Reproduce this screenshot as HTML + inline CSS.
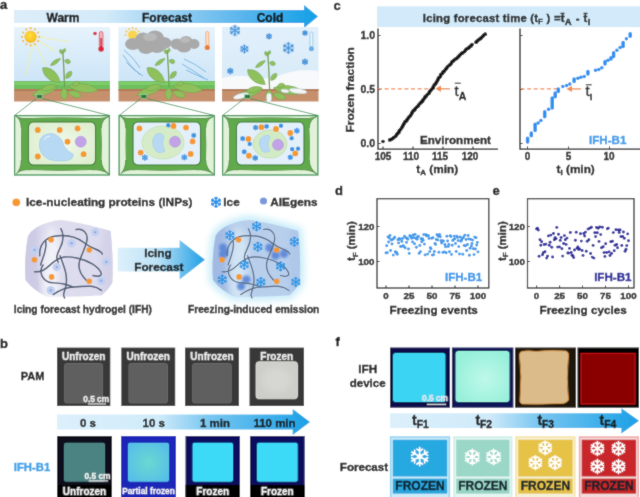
<!DOCTYPE html>
<html><head><meta charset="utf-8"><style>html,body{margin:0;padding:0;background:#fff;overflow:hidden;}svg{display:block;}</style></head>
<body><svg width="640" height="497" viewBox="0 0 640 497">
<filter id="gblur" x="0" y="0" width="640" height="497" filterUnits="userSpaceOnUse"><feConvolveMatrix order="3" kernelMatrix="1 2 1 2 20 2 1 2 1" divisor="32" edgeMode="duplicate"/></filter>
<g filter="url(#gblur)">
<rect width="640" height="497" fill="#fff"/>
<defs>
<linearGradient id="hdr" x1="14" x2="318" y1="0" y2="0" gradientUnits="userSpaceOnUse">
 <stop offset="0" stop-color="#dcedf9"/><stop offset="0.3" stop-color="#d3eaf9"/><stop offset="0.75" stop-color="#5ab5ec"/><stop offset="1" stop-color="#12a0e6"/></linearGradient>
<linearGradient id="sky" x1="0" x2="0" y1="0" y2="1"><stop offset="0" stop-color="#e6f3fc"/><stop offset="1" stop-color="#cde5f7"/></linearGradient>
<linearGradient id="sky3" x1="0" x2="0" y1="0" y2="1"><stop offset="0" stop-color="#e2f0fb"/><stop offset="1" stop-color="#d8ebf8"/></linearGradient>
<linearGradient id="arrA" x1="118" x2="205" y1="0" y2="0" gradientUnits="userSpaceOnUse">
 <stop offset="0" stop-color="#dcf0fb"/><stop offset="0.45" stop-color="#bde2f7"/><stop offset="1" stop-color="#1e9fe4"/></linearGradient>
<linearGradient id="arrB" x1="57" x2="310" y1="0" y2="0" gradientUnits="userSpaceOnUse">
 <stop offset="0" stop-color="#dcf0fb"/><stop offset="0.4" stop-color="#d0ebfa"/><stop offset="0.6" stop-color="#78c6f0"/><stop offset="1" stop-color="#1aa0e6"/></linearGradient>
<linearGradient id="arrF" x1="390" x2="639" y1="0" y2="0" gradientUnits="userSpaceOnUse">
 <stop offset="0" stop-color="#dcf0fb"/><stop offset="0.4" stop-color="#cfeafa"/><stop offset="0.6" stop-color="#78c6f0"/><stop offset="1" stop-color="#1aa0e6"/></linearGradient>
<radialGradient id="gel1" cx="0.5" cy="0.5" r="0.6"><stop offset="0" stop-color="#f4f4fb"/><stop offset="0.7" stop-color="#dedcef"/><stop offset="1" stop-color="#c9c7e3"/></radialGradient>
<radialGradient id="gel2" cx="0.5" cy="0.5" r="0.6"><stop offset="0" stop-color="#c0d6ee"/><stop offset="0.7" stop-color="#aac4e8"/><stop offset="1" stop-color="#a0bce6"/></radialGradient>
<radialGradient id="mint" cx="0.55" cy="0.55" r="0.6"><stop offset="0" stop-color="#bff8ea"/><stop offset="1" stop-color="#96f0da"/></radialGradient>
<radialGradient id="cyto1" cx="0.5" cy="0.5" r="0.6"><stop offset="0" stop-color="#f0f8ea"/><stop offset="1" stop-color="#ddefcf"/></radialGradient>
<filter id="blur3" x="-20%" y="-20%" width="140%" height="140%"><feGaussianBlur stdDeviation="3"/></filter>
<filter id="blur08" x="-50%" y="-50%" width="200%" height="200%"><feGaussianBlur stdDeviation="0.8"/></filter>
<radialGradient id="glow" cx="0.5" cy="0.5" r="0.5"><stop offset="0.6" stop-color="#bfe6f7"/><stop offset="1" stop-color="#ffffff" stop-opacity="0"/></radialGradient>
<radialGradient id="sun" cx="0.45" cy="0.4" r="0.6"><stop offset="0" stop-color="#ffe040"/><stop offset="1" stop-color="#f8b818"/></radialGradient>
<radialGradient id="partial" cx="0.5" cy="0.5" r="0.6"><stop offset="0" stop-color="#6ad8d0"/><stop offset="1" stop-color="#56bfe8"/></radialGradient>
</defs>
<text x="0" y="9" font-size="13" font-family="Liberation Sans, Arial, sans-serif" font-weight="bold" fill="#111" stroke="#111" stroke-width="0.35">a</text>
<path d="M14 10H304V5L318 16.5L304 28V23H14Z" fill="url(#hdr)"/>
<text x="63" y="21.5" font-size="12" font-family="Liberation Sans, Arial, sans-serif" font-weight="bold" fill="#111" text-anchor="middle" stroke="#111" stroke-width="0.35">Warm</text>
<text x="167" y="21.5" font-size="12" font-family="Liberation Sans, Arial, sans-serif" font-weight="bold" fill="#111" text-anchor="middle" stroke="#111" stroke-width="0.35">Forecast</text>
<text x="270" y="21.5" font-size="12" font-family="Liberation Sans, Arial, sans-serif" font-weight="bold" fill="#111" text-anchor="middle" stroke="#111" stroke-width="0.35">Cold</text>
<rect x="14" y="27" width="96" height="54" fill="url(#sky)"/>
<rect x="14" y="81" width="96" height="8.5" fill="#6cbf5c"/>
<rect x="14" y="82" width="96" height="3" fill="#7fcb6a"/>
<rect x="14" y="89" width="96" height="12.5" fill="#c6906c"/>
<rect x="14" y="89" width="96" height="2" fill="#b27c58"/>
<rect x="118.5" y="27" width="96.5" height="54" fill="url(#sky)"/>
<rect x="118.5" y="81" width="96.5" height="8.5" fill="#6cbf5c"/>
<rect x="118.5" y="82" width="96.5" height="3" fill="#7fcb6a"/>
<rect x="118.5" y="89" width="96.5" height="12.5" fill="#c6906c"/>
<rect x="118.5" y="89" width="96.5" height="2" fill="#b27c58"/>
<rect x="222" y="27" width="96.5" height="54" fill="url(#sky3)"/>
<rect x="222" y="89" width="96.5" height="12.5" fill="#c6906c"/>
<rect x="222" y="89" width="96.5" height="2" fill="#b27c58"/>
<g opacity="0.55" stroke="#f0f0a0" stroke-width="1.6"><path d="M33 44L26 75M36 44L46 66M38 40L56 52M40 37L70 42"/></g>
<circle cx="39.20" cy="36.80" r="1.1" fill="#f6b830"/>
<circle cx="38.05" cy="41.10" r="1.1" fill="#f6b830"/>
<circle cx="34.90" cy="44.25" r="1.1" fill="#f6b830"/>
<circle cx="30.60" cy="45.40" r="1.1" fill="#f6b830"/>
<circle cx="26.30" cy="44.25" r="1.1" fill="#f6b830"/>
<circle cx="23.15" cy="41.10" r="1.1" fill="#f6b830"/>
<circle cx="22.00" cy="36.80" r="1.1" fill="#f6b830"/>
<circle cx="23.15" cy="32.50" r="1.1" fill="#f6b830"/>
<circle cx="26.30" cy="29.35" r="1.1" fill="#f6b830"/>
<circle cx="30.60" cy="28.20" r="1.1" fill="#f6b830"/>
<circle cx="34.90" cy="29.35" r="1.1" fill="#f6b830"/>
<circle cx="38.05" cy="32.50" r="1.1" fill="#f6b830"/>
<circle cx="30.6" cy="36.8" r="6.2" fill="url(#sun)"/>
<rect x="99.3" y="31.5" width="3.6" height="16" rx="1.8" fill="#f2b8c0" stroke="#d83848" stroke-width="0.7"/>
<rect x="100.4" y="38" width="1.4" height="10" fill="#d82838"/>
<circle cx="101.1" cy="49" r="2.8" fill="#d82838"/>
<circle cx="95" cy="33.5" r="1.8" fill="#d82838"/>
<circle cx="125.50" cy="35.00" r="1" fill="#f6c040"/>
<circle cx="126.44" cy="31.50" r="1" fill="#f6c040"/>
<circle cx="129.00" cy="28.94" r="1" fill="#f6c040"/>
<circle cx="132.50" cy="28.00" r="1" fill="#f6c040"/>
<circle cx="136.00" cy="28.94" r="1" fill="#f6c040"/>
<circle cx="138.56" cy="31.50" r="1" fill="#f6c040"/>
<circle cx="139.50" cy="35.00" r="1" fill="#f6c040"/>
<circle cx="132.5" cy="35" r="4.8" fill="#fad650"/>
<g fill="#a9a9a9"><ellipse cx="133" cy="44" rx="8" ry="6"/><ellipse cx="143" cy="40" rx="8" ry="7.5"/><ellipse cx="155" cy="38" rx="9" ry="7.5"/><ellipse cx="164" cy="43" rx="7.5" ry="6"/><ellipse cx="146" cy="48" rx="8" ry="6"/><ellipse cx="157" cy="47" rx="8" ry="6"/><ellipse cx="177" cy="44" rx="6.5" ry="5.5"/><ellipse cx="186" cy="41.5" rx="6.5" ry="5.5"/><ellipse cx="194" cy="44" rx="5.5" ry="5"/><ellipse cx="184" cy="48" rx="7" ry="4.5"/></g>
<g fill="#c4c4c4" opacity="0.6"><ellipse cx="150" cy="37" rx="7" ry="4"/><ellipse cx="185" cy="40" rx="5" ry="3"/></g>
<g stroke="#5fa6dc" stroke-width="0.85" fill="none" opacity="0.9"><path d="M124 50 Q134 58 140 68"/><path d="M123 55 Q130 66 140 75"/><path d="M126 62 Q133 70 143 76"/><path d="M184 59 Q196 64 206 72"/><path d="M182 64 Q194 71 204 78"/><path d="M186 70 Q196 75 208 80"/></g>
<rect x="205.8" y="31.5" width="3" height="14" rx="1.5" fill="#fbe0cc" stroke="#f08a40" stroke-width="0.6"/>
<circle cx="207.3" cy="47.5" r="2.6" fill="#f07a30"/>
<path d="M222 78 Q240 74 252 77 Q266 80 278 76 Q296 68 318.5 71 V89 H222Z" fill="#f7f9fb"/>
<polygon points="239.66,33.25 234.90,36.00 230.14,33.25 230.14,27.75 234.90,25.00 239.66,27.75" fill="#8cc2ec" opacity="0.6"/>
<path d="M234.90 30.50L234.90 25.00M234.90 27.20L236.26 25.84M234.90 27.20L233.54 25.84M234.90 30.50L230.14 27.75M232.04 28.85L231.54 26.99M232.04 28.85L230.18 29.35M234.90 30.50L230.14 33.25M232.04 32.15L230.18 31.65M232.04 32.15L231.54 34.01M234.90 30.50L234.90 36.00M234.90 33.80L233.54 35.16M234.90 33.80L236.26 35.16M234.90 30.50L239.66 33.25M237.76 32.15L238.26 34.01M237.76 32.15L239.62 31.65M234.90 30.50L239.66 27.75M237.76 28.85L239.62 29.35M237.76 28.85L238.26 26.99" stroke="#3d8fd8" stroke-width="0.9" stroke-linecap="round" fill="none" opacity="1"/>
<polygon points="271.42,37.80 269.00,39.20 266.58,37.80 266.58,35.00 269.00,33.60 271.42,35.00" fill="#8cc2ec" opacity="0.6"/>
<path d="M269.00 36.40L269.00 33.60M269.00 34.72L269.69 34.03M269.00 34.72L268.31 34.03M269.00 36.40L266.58 35.00M267.55 35.56L267.29 34.61M267.55 35.56L266.60 35.81M269.00 36.40L266.58 37.80M267.55 37.24L266.60 36.99M267.55 37.24L267.29 38.19M269.00 36.40L269.00 39.20M269.00 38.08L268.31 38.77M269.00 38.08L269.69 38.77M269.00 36.40L271.42 37.80M270.45 37.24L270.71 38.19M270.45 37.24L271.40 36.99M269.00 36.40L271.42 35.00M270.45 35.56L271.40 35.81M270.45 35.56L270.71 34.61" stroke="#3d8fd8" stroke-width="0.9" stroke-linecap="round" fill="none" opacity="1"/>
<polygon points="248.04,51.10 244.40,53.20 240.76,51.10 240.76,46.90 244.40,44.80 248.04,46.90" fill="#8cc2ec" opacity="0.6"/>
<path d="M244.40 49.00L244.40 44.80M244.40 46.48L245.44 45.44M244.40 46.48L243.36 45.44M244.40 49.00L240.76 46.90M242.22 47.74L241.84 46.32M242.22 47.74L240.80 48.12M244.40 49.00L240.76 51.10M242.22 50.26L240.80 49.88M242.22 50.26L241.84 51.68M244.40 49.00L244.40 53.20M244.40 51.52L243.36 52.56M244.40 51.52L245.44 52.56M244.40 49.00L248.04 51.10M246.58 50.26L246.96 51.68M246.58 50.26L248.00 49.88M244.40 49.00L248.04 46.90M246.58 47.74L248.00 48.12M246.58 47.74L246.96 46.32" stroke="#3d8fd8" stroke-width="0.9" stroke-linecap="round" fill="none" opacity="1"/>
<polygon points="293.42,50.90 288.40,53.80 283.38,50.90 283.38,45.10 288.40,42.20 293.42,45.10" fill="#8cc2ec" opacity="0.6"/>
<path d="M288.40 48.00L288.40 42.20M288.40 44.52L289.84 43.08M288.40 44.52L286.96 43.08M288.40 48.00L283.38 45.10M285.39 46.26L284.86 44.30M285.39 46.26L283.43 46.79M288.40 48.00L283.38 50.90M285.39 49.74L283.43 49.21M285.39 49.74L284.86 51.70M288.40 48.00L288.40 53.80M288.40 51.48L286.96 52.92M288.40 51.48L289.84 52.92M288.40 48.00L293.42 50.90M291.41 49.74L291.94 51.70M291.41 49.74L293.37 49.21M288.40 48.00L293.42 45.10M291.41 46.26L293.37 46.79M291.41 46.26L291.94 44.30" stroke="#3d8fd8" stroke-width="0.9" stroke-linecap="round" fill="none" opacity="1"/>
<polygon points="307.17,34.25 305.00,35.50 302.83,34.25 302.83,31.75 305.00,30.50 307.17,31.75" fill="#8cc2ec" opacity="0.6"/>
<path d="M305.00 33.00L305.00 30.50M305.00 31.50L305.62 30.88M305.00 31.50L304.38 30.88M305.00 33.00L302.83 31.75M303.70 32.25L303.47 31.40M303.70 32.25L302.86 32.48M305.00 33.00L302.83 34.25M303.70 33.75L302.86 33.52M303.70 33.75L303.47 34.60M305.00 33.00L305.00 35.50M305.00 34.50L304.38 35.12M305.00 34.50L305.62 35.12M305.00 33.00L307.17 34.25M306.30 33.75L306.53 34.60M306.30 33.75L307.14 33.52M305.00 33.00L307.17 31.75M306.30 32.25L307.14 32.48M306.30 32.25L306.53 31.40" stroke="#3d8fd8" stroke-width="0.9" stroke-linecap="round" fill="none" opacity="1"/>
<polygon points="307.60,63.30 305.00,64.80 302.40,63.30 302.40,60.30 305.00,58.80 307.60,60.30" fill="#8cc2ec" opacity="0.6"/>
<path d="M305.00 61.80L305.00 58.80M305.00 60.00L305.74 59.26M305.00 60.00L304.26 59.26M305.00 61.80L302.40 60.30M303.44 60.90L303.17 59.89M303.44 60.90L302.43 61.17M305.00 61.80L302.40 63.30M303.44 62.70L302.43 62.43M303.44 62.70L303.17 63.71M305.00 61.80L305.00 64.80M305.00 63.60L304.26 64.34M305.00 63.60L305.74 64.34M305.00 61.80L307.60 63.30M306.56 62.70L306.83 63.71M306.56 62.70L307.57 62.43M305.00 61.80L307.60 60.30M306.56 60.90L307.57 61.17M306.56 60.90L306.83 59.89" stroke="#3d8fd8" stroke-width="0.9" stroke-linecap="round" fill="none" opacity="1"/>
<polygon points="232.90,72.50 230.30,74.00 227.70,72.50 227.70,69.50 230.30,68.00 232.90,69.50" fill="#8cc2ec" opacity="0.6"/>
<path d="M230.30 71.00L230.30 68.00M230.30 69.20L231.04 68.46M230.30 69.20L229.56 68.46M230.30 71.00L227.70 69.50M228.74 70.10L228.47 69.09M228.74 70.10L227.73 70.37M230.30 71.00L227.70 72.50M228.74 71.90L227.73 71.63M228.74 71.90L228.47 72.91M230.30 71.00L230.30 74.00M230.30 72.80L229.56 73.54M230.30 72.80L231.04 73.54M230.30 71.00L232.90 72.50M231.86 71.90L232.13 72.91M231.86 71.90L232.87 71.63M230.30 71.00L232.90 69.50M231.86 70.10L232.87 70.37M231.86 70.10L232.13 69.09" stroke="#3d8fd8" stroke-width="0.9" stroke-linecap="round" fill="none" opacity="1"/>
<rect x="309.9" y="32" width="3" height="15" rx="1.5" fill="#e8f4fc" stroke="#74b4e4" stroke-width="0.6"/>
<circle cx="311.4" cy="48.8" r="2.5" fill="#6aaee4" />
<g transform="translate(14,27)"><path d="M50.6 60 Q50 42 48.8 23.5" stroke="#6f9c4a" stroke-width="1.3" fill="none"/><path d="M-15 0C-4.50 -5.96 8.25 -5.52 15 0C8.25 5.52 -4.50 5.96 -15 0Z" transform="translate(69 61) rotate(8)" fill="#8ec05c" stroke="#6e9f46" stroke-width="0.5"/><path d="M-13.5 0C-4.05 -4.97 7.43 -4.60 13.5 0C7.43 4.60 -4.05 4.97 -13.5 0Z" transform="translate(31 64) rotate(162)" fill="#8ec05c" stroke="#6e9f46" stroke-width="0.5"/><path d="M-8 0C-2.40 -3.73 4.40 -3.45 8 0C4.40 3.45 -2.40 3.73 -8 0Z" transform="translate(35 60.5) rotate(165)" fill="#8ec05c" stroke="#6e9f46" stroke-width="0.5"/><path d="M-7 0C-2.10 -4.35 3.85 -4.03 7 0C3.85 4.03 -2.10 4.35 -7 0Z" transform="translate(60.5 67) rotate(20)" fill="#8ec05c" stroke="#6e9f46" stroke-width="0.5"/><path d="M-4 0C-1.20 -3.11 2.20 -2.88 4 0C2.20 2.88 -1.20 3.11 -4 0Z" transform="translate(61.7 56.7) rotate(-20)" fill="#8ec05c" stroke="#6e9f46" stroke-width="0.5"/><path d="M-3.6 0C-1.08 -8.07 1.98 -7.48 3.6 0C1.98 7.48 -1.08 8.07 -3.6 0Z" transform="translate(50 67) rotate(0)" fill="#8ec05c" stroke="#6e9f46" stroke-width="0.5"/><path d="M-11.5 0C-3.45 -6.58 6.33 -6.10 11.5 0C6.33 6.10 -3.45 6.58 -11.5 0Z" transform="translate(37.4 48.2) rotate(220)" fill="#8ec05c" stroke="#6e9f46" stroke-width="0.5"/><path d="M-4.5 0C-1.35 -3.23 2.48 -2.99 4.5 0C2.48 2.99 -1.35 3.23 -4.5 0Z" transform="translate(54.7 47.9) rotate(-50)" fill="#8ec05c" stroke="#6e9f46" stroke-width="0.5"/><path d="M-6 0C-1.80 -2.48 3.30 -2.30 6 0C3.30 2.30 -1.80 2.48 -6 0Z" transform="translate(41.5 35) rotate(145)" fill="#8ec05c" stroke="#6e9f46" stroke-width="0.5"/><path d="M-3 0C-0.90 -2.98 1.65 -2.76 3 0C1.65 2.76 -0.90 2.98 -3 0Z" transform="translate(53.5 34.4) rotate(20)" fill="#8ec05c" stroke="#6e9f46" stroke-width="0.5"/><path d="M-1.6 0C-0.48 -3.23 0.88 -2.99 1.6 0C0.88 2.99 -0.48 3.23 -1.6 0Z" transform="translate(47.2 24.6) rotate(160)" fill="#8ec05c" stroke="#6e9f46" stroke-width="0.5"/><path d="M-1.4 0C-0.42 -2.98 0.77 -2.76 1.4 0C0.77 2.76 -0.42 2.98 -1.4 0Z" transform="translate(50.2 23.6) rotate(20)" fill="#8ec05c" stroke="#6e9f46" stroke-width="0.5"/></g><rect x="36.4" y="94.6" width="6" height="4" fill="#2b7a3c" stroke="#a8d8b0" stroke-width="0.6"/>
<g transform="translate(118.5,27)"><path d="M50.6 60 Q50 42 48.8 23.5" stroke="#6f9c4a" stroke-width="1.3" fill="none"/><path d="M-15 0C-4.50 -5.96 8.25 -5.52 15 0C8.25 5.52 -4.50 5.96 -15 0Z" transform="translate(69 61) rotate(8)" fill="#8ec05c" stroke="#6e9f46" stroke-width="0.5"/><path d="M-13.5 0C-4.05 -4.97 7.43 -4.60 13.5 0C7.43 4.60 -4.05 4.97 -13.5 0Z" transform="translate(31 64) rotate(162)" fill="#8ec05c" stroke="#6e9f46" stroke-width="0.5"/><path d="M-8 0C-2.40 -3.73 4.40 -3.45 8 0C4.40 3.45 -2.40 3.73 -8 0Z" transform="translate(35 60.5) rotate(165)" fill="#8ec05c" stroke="#6e9f46" stroke-width="0.5"/><path d="M-7 0C-2.10 -4.35 3.85 -4.03 7 0C3.85 4.03 -2.10 4.35 -7 0Z" transform="translate(60.5 67) rotate(20)" fill="#8ec05c" stroke="#6e9f46" stroke-width="0.5"/><path d="M-4 0C-1.20 -3.11 2.20 -2.88 4 0C2.20 2.88 -1.20 3.11 -4 0Z" transform="translate(61.7 56.7) rotate(-20)" fill="#8ec05c" stroke="#6e9f46" stroke-width="0.5"/><path d="M-3.6 0C-1.08 -8.07 1.98 -7.48 3.6 0C1.98 7.48 -1.08 8.07 -3.6 0Z" transform="translate(50 67) rotate(0)" fill="#8ec05c" stroke="#6e9f46" stroke-width="0.5"/><path d="M-11.5 0C-3.45 -6.58 6.33 -6.10 11.5 0C6.33 6.10 -3.45 6.58 -11.5 0Z" transform="translate(37.4 48.2) rotate(220)" fill="#8ec05c" stroke="#6e9f46" stroke-width="0.5"/><path d="M-4.5 0C-1.35 -3.23 2.48 -2.99 4.5 0C2.48 2.99 -1.35 3.23 -4.5 0Z" transform="translate(54.7 47.9) rotate(-50)" fill="#8ec05c" stroke="#6e9f46" stroke-width="0.5"/><path d="M-6 0C-1.80 -2.48 3.30 -2.30 6 0C3.30 2.30 -1.80 2.48 -6 0Z" transform="translate(41.5 35) rotate(145)" fill="#8ec05c" stroke="#6e9f46" stroke-width="0.5"/><path d="M-3 0C-0.90 -2.98 1.65 -2.76 3 0C1.65 2.76 -0.90 2.98 -3 0Z" transform="translate(53.5 34.4) rotate(20)" fill="#8ec05c" stroke="#6e9f46" stroke-width="0.5"/><path d="M-1.6 0C-0.48 -3.23 0.88 -2.99 1.6 0C0.88 2.99 -0.48 3.23 -1.6 0Z" transform="translate(47.2 24.6) rotate(160)" fill="#8ec05c" stroke="#6e9f46" stroke-width="0.5"/><path d="M-1.4 0C-0.42 -2.98 0.77 -2.76 1.4 0C0.77 2.76 -0.42 2.98 -1.4 0Z" transform="translate(50.2 23.6) rotate(20)" fill="#8ec05c" stroke="#6e9f46" stroke-width="0.5"/></g><rect x="140.9" y="94.6" width="6" height="4" fill="#2b7a3c" stroke="#a8d8b0" stroke-width="0.6"/>
<g transform="translate(219,29)"><path d="M50.6 60 Q50 42 48.8 23.5" stroke="#6f9c4a" stroke-width="1.3" fill="none"/><path d="M-15 0C-4.50 -5.96 8.25 -5.52 15 0C8.25 5.52 -4.50 5.96 -15 0Z" transform="translate(69 61) rotate(8)" fill="#8ec05c" stroke="#6e9f46" stroke-width="0.5"/><path d="M-13.5 0C-4.05 -4.97 7.43 -4.60 13.5 0C7.43 4.60 -4.05 4.97 -13.5 0Z" transform="translate(31 64) rotate(162)" fill="#8ec05c" stroke="#6e9f46" stroke-width="0.5"/><path d="M-8 0C-2.40 -3.73 4.40 -3.45 8 0C4.40 3.45 -2.40 3.73 -8 0Z" transform="translate(35 60.5) rotate(165)" fill="#8ec05c" stroke="#6e9f46" stroke-width="0.5"/><path d="M-7 0C-2.10 -4.35 3.85 -4.03 7 0C3.85 4.03 -2.10 4.35 -7 0Z" transform="translate(60.5 67) rotate(20)" fill="#8ec05c" stroke="#6e9f46" stroke-width="0.5"/><path d="M-4 0C-1.20 -3.11 2.20 -2.88 4 0C2.20 2.88 -1.20 3.11 -4 0Z" transform="translate(61.7 56.7) rotate(-20)" fill="#8ec05c" stroke="#6e9f46" stroke-width="0.5"/><path d="M-3.6 0C-1.08 -8.07 1.98 -7.48 3.6 0C1.98 7.48 -1.08 8.07 -3.6 0Z" transform="translate(50 67) rotate(0)" fill="#8ec05c" stroke="#6e9f46" stroke-width="0.5"/><path d="M-11.5 0C-3.45 -6.58 6.33 -6.10 11.5 0C6.33 6.10 -3.45 6.58 -11.5 0Z" transform="translate(37.4 48.2) rotate(220)" fill="#8ec05c" stroke="#6e9f46" stroke-width="0.5"/><path d="M-4.5 0C-1.35 -3.23 2.48 -2.99 4.5 0C2.48 2.99 -1.35 3.23 -4.5 0Z" transform="translate(54.7 47.9) rotate(-50)" fill="#8ec05c" stroke="#6e9f46" stroke-width="0.5"/><path d="M-6 0C-1.80 -2.48 3.30 -2.30 6 0C3.30 2.30 -1.80 2.48 -6 0Z" transform="translate(41.5 35) rotate(145)" fill="#8ec05c" stroke="#6e9f46" stroke-width="0.5"/><path d="M-3 0C-0.90 -2.98 1.65 -2.76 3 0C1.65 2.76 -0.90 2.98 -3 0Z" transform="translate(53.5 34.4) rotate(20)" fill="#8ec05c" stroke="#6e9f46" stroke-width="0.5"/><path d="M-1.6 0C-0.48 -3.23 0.88 -2.99 1.6 0C0.88 2.99 -0.48 3.23 -1.6 0Z" transform="translate(47.2 24.6) rotate(160)" fill="#8ec05c" stroke="#6e9f46" stroke-width="0.5"/><path d="M-1.4 0C-0.42 -2.98 0.77 -2.76 1.4 0C0.77 2.76 -0.42 2.98 -1.4 0Z" transform="translate(50.2 23.6) rotate(20)" fill="#8ec05c" stroke="#6e9f46" stroke-width="0.5"/><ellipse cx="22" cy="67" rx="8" ry="2.6" transform="rotate(-15 22 67)" fill="#f2f5f6" stroke="#a8b8c0" stroke-width="0.4"/><ellipse cx="79" cy="62" rx="9" ry="2.6" transform="rotate(8 79 62)" fill="#f2f5f6" stroke="#a8b8c0" stroke-width="0.4"/><ellipse cx="50" cy="69" rx="2.6" ry="5" transform="rotate(0 50 69)" fill="#f2f5f6" stroke="#a8b8c0" stroke-width="0.4"/><ellipse cx="66" cy="62" rx="4" ry="1.8" transform="rotate(8 66 62)" fill="#f2f5f6" stroke="#a8b8c0" stroke-width="0.4"/></g><rect x="244.4" y="94.6" width="6" height="4" fill="#2b7a3c" stroke="#a8d8b0" stroke-width="0.6"/>
<path d="M36.4 98.6L14.5 115.5M42.4 98.6L109.5 115.5" stroke="#3d8f56" stroke-width="0.8" fill="none"/>
<path d="M140.9 98.6L119.0 115.5M146.9 98.6L214.5 115.5" stroke="#3d8f56" stroke-width="0.8" fill="none"/>
<path d="M244.4 98.6L222.5 115.5M250.4 98.6L318.0 115.5" stroke="#3d8f56" stroke-width="0.8" fill="none"/>
<rect x="14.6" y="115.6" width="94.8" height="59.4" fill="#e1f2d8" stroke="#3c9458" stroke-width="1.3"/><path d="M22.00 119 Q60.00 116.8 100.50 119 Q102.00 144 100.80 169.3 Q60.00 171.2 22.00 169.3 Q21.00 144 22.00 119Z" fill="#60aa4b" stroke="#3f7d35" stroke-width="0.9"/><path d="M21.30 128 Q21.00 119.5 16.00 116.3 Q21.00 119.5 31.00 118.4Z" fill="#60aa4b" stroke="#3f7d35" stroke-width="0.7"/><path d="M101.20 128 Q101.50 119.5 108.80 116.5 Q101.50 119.5 91.50 118.4Z" fill="#60aa4b" stroke="#3f7d35" stroke-width="0.7"/><path d="M21.30 160 Q21.00 169 16.50 173.6 Q21.00 169 31.00 169.8Z" fill="#60aa4b" stroke="#3f7d35" stroke-width="0.7"/><path d="M101.20 160 Q101.50 169 109.00 174 Q101.50 169 91.50 169.8Z" fill="#60aa4b" stroke="#3f7d35" stroke-width="0.7"/><path d="M22.00 119 Q60.00 116.8 100.50 119 Q102.00 144 100.80 169.3 Q60.00 171.2 22.00 169.3 Q21.00 144 22.00 119Z" fill="#60aa4b"/><rect x="28.50" y="122" width="67.00" height="43" rx="5" fill="url(#cyto1)" stroke="#3b7832" stroke-width="1.1"/>
<rect x="119.1" y="115.6" width="95.3" height="59.4" fill="#e1f2d8" stroke="#3c9458" stroke-width="1.3"/><path d="M126.50 119 Q164.50 116.8 205.00 119 Q206.50 144 205.30 169.3 Q164.50 171.2 126.50 169.3 Q125.50 144 126.50 119Z" fill="#60aa4b" stroke="#3f7d35" stroke-width="0.9"/><path d="M125.80 128 Q125.50 119.5 120.50 116.3 Q125.50 119.5 135.50 118.4Z" fill="#60aa4b" stroke="#3f7d35" stroke-width="0.7"/><path d="M205.70 128 Q206.00 119.5 213.30 116.5 Q206.00 119.5 196.00 118.4Z" fill="#60aa4b" stroke="#3f7d35" stroke-width="0.7"/><path d="M125.80 160 Q125.50 169 121.00 173.6 Q125.50 169 135.50 169.8Z" fill="#60aa4b" stroke="#3f7d35" stroke-width="0.7"/><path d="M205.70 160 Q206.00 169 213.50 174 Q206.00 169 196.00 169.8Z" fill="#60aa4b" stroke="#3f7d35" stroke-width="0.7"/><path d="M126.50 119 Q164.50 116.8 205.00 119 Q206.50 144 205.30 169.3 Q164.50 171.2 126.50 169.3 Q125.50 144 126.50 119Z" fill="#60aa4b"/><rect x="133.00" y="122" width="67.50" height="43" rx="5" fill="#e3f0fa" stroke="#3b7832" stroke-width="1.1"/>
<rect x="222.6" y="115.6" width="95.3" height="59.4" fill="#e1f2d8" stroke="#3c9458" stroke-width="1.3"/><path d="M230.00 119 Q268.00 116.8 308.50 119 Q310.00 144 308.80 169.3 Q268.00 171.2 230.00 169.3 Q229.00 144 230.00 119Z" fill="#60aa4b" stroke="#3f7d35" stroke-width="0.9"/><path d="M229.30 128 Q229.00 119.5 224.00 116.3 Q229.00 119.5 239.00 118.4Z" fill="#60aa4b" stroke="#3f7d35" stroke-width="0.7"/><path d="M309.20 128 Q309.50 119.5 316.80 116.5 Q309.50 119.5 299.50 118.4Z" fill="#60aa4b" stroke="#3f7d35" stroke-width="0.7"/><path d="M229.30 160 Q229.00 169 224.50 173.6 Q229.00 169 239.00 169.8Z" fill="#60aa4b" stroke="#3f7d35" stroke-width="0.7"/><path d="M309.20 160 Q309.50 169 317.00 174 Q309.50 169 299.50 169.8Z" fill="#60aa4b" stroke="#3f7d35" stroke-width="0.7"/><path d="M230.00 119 Q268.00 116.8 308.50 119 Q310.00 144 308.80 169.3 Q268.00 171.2 230.00 169.3 Q229.00 144 230.00 119Z" fill="#60aa4b"/><rect x="236.50" y="122" width="67.50" height="43" rx="5" fill="#e3f0fa" stroke="#3b7832" stroke-width="1.1"/>
<path d="M40 140 Q44 132 54 134 Q62 137 64 146 Q68 152 73 154 Q74 161 62 161 Q46 162 41 152 Q38 146 40 140Z" fill="#b7d9f3" stroke="#9cc6e8" stroke-width="0.6"/>
<path d="M44 140 Q46 136 50 136" stroke="#fff" stroke-width="1" fill="none" opacity="0.8"/>
<circle cx="80.75" cy="141.7" r="5.5" fill="#c3a3e8" stroke="#a888d8" stroke-width="0.5"/>
<circle cx="37.8" cy="130" r="2.9" fill="#f5982e"/>
<circle cx="59.7" cy="130" r="2.9" fill="#f5982e"/>
<circle cx="77.6" cy="128.4" r="2.9" fill="#f5982e"/>
<circle cx="67.5" cy="141.7" r="2.9" fill="#f5982e"/>
<circle cx="37.8" cy="156.5" r="2.9" fill="#f5982e"/>
<circle cx="83.6" cy="154.2" r="2.9" fill="#f5982e"/>
<ellipse cx="163" cy="142.5" rx="21" ry="16.5" fill="#d6ecc8" stroke="#c2e0b0" stroke-width="0.8"/>
<path d="M156 134 Q163 132 164 137 Q161 143 165 151 Q162 154 157 152 Q151 146 153 139Z" fill="#b7d9f3" stroke="#9cc6e8" stroke-width="0.5"/>
<circle cx="175" cy="141.7" r="5.5" fill="#c3a3e8" stroke="#a888d8" stroke-width="0.5"/>
<circle cx="139.4" cy="128.4" r="2.9" fill="#f5982e"/>
<circle cx="173.5" cy="126" r="2.9" fill="#f5982e"/>
<circle cx="186" cy="127.6" r="2.9" fill="#f5982e"/>
<circle cx="192.6" cy="141.4" r="2.9" fill="#f5982e"/>
<circle cx="140.7" cy="152.6" r="2.9" fill="#f5982e"/>
<circle cx="190.7" cy="153.9" r="2.9" fill="#f5982e"/>
<path d="M168.30 125.30L168.30 123.50M168.30 124.22L168.75 123.77M168.30 124.22L167.85 123.77M168.30 125.30L166.74 124.40M167.36 124.76L167.20 124.15M167.36 124.76L166.76 124.92M168.30 125.30L166.74 126.20M167.36 125.84L166.76 125.68M167.36 125.84L167.20 126.45M168.30 125.30L168.30 127.10M168.30 126.38L167.85 126.83M168.30 126.38L168.75 126.83M168.30 125.30L169.86 126.20M169.24 125.84L169.40 126.45M169.24 125.84L169.84 125.68M168.30 125.30L169.86 124.40M169.24 124.76L169.84 124.92M169.24 124.76L169.40 124.15" stroke="#2f8de0" stroke-width="0.9" stroke-linecap="round" fill="none" opacity="1"/>
<path d="M193.80 135.40L193.80 133.20M193.80 134.08L194.34 133.54M193.80 134.08L193.26 133.54M193.80 135.40L191.89 134.30M192.66 134.74L192.46 134.00M192.66 134.74L191.91 134.94M193.80 135.40L191.89 136.50M192.66 136.06L191.91 135.86M192.66 136.06L192.46 136.80M193.80 135.40L193.80 137.60M193.80 136.72L193.26 137.26M193.80 136.72L194.34 137.26M193.80 135.40L195.71 136.50M194.94 136.06L195.14 136.80M194.94 136.06L195.69 135.86M193.80 135.40L195.71 134.30M194.94 134.74L195.69 134.94M194.94 134.74L195.14 134.00" stroke="#2f8de0" stroke-width="0.9" stroke-linecap="round" fill="none" opacity="1"/>
<path d="M144.90 157.60L144.90 154.80M144.90 155.92L145.59 155.23M144.90 155.92L144.21 155.23M144.90 157.60L142.48 156.20M143.45 156.76L143.19 155.81M143.45 156.76L142.50 157.01M144.90 157.60L142.48 159.00M143.45 158.44L142.50 158.19M143.45 158.44L143.19 159.39M144.90 157.60L144.90 160.40M144.90 159.28L144.21 159.97M144.90 159.28L145.59 159.97M144.90 157.60L147.32 159.00M146.35 158.44L146.61 159.39M146.35 158.44L147.30 158.19M144.90 157.60L147.32 156.20M146.35 156.76L147.30 157.01M146.35 156.76L146.61 155.81" stroke="#2f8de0" stroke-width="0.9" stroke-linecap="round" fill="none" opacity="1"/>
<path d="M184.40 157.30L184.40 154.50M184.40 155.62L185.09 154.93M184.40 155.62L183.71 154.93M184.40 157.30L181.98 155.90M182.95 156.46L182.69 155.51M182.95 156.46L182.00 156.71M184.40 157.30L181.98 158.70M182.95 158.14L182.00 157.89M182.95 158.14L182.69 159.09M184.40 157.30L184.40 160.10M184.40 158.98L183.71 159.67M184.40 158.98L185.09 159.67M184.40 157.30L186.82 158.70M185.85 158.14L186.11 159.09M185.85 158.14L186.80 157.89M184.40 157.30L186.82 155.90M185.85 156.46L186.80 156.71M185.85 156.46L186.11 155.51" stroke="#2f8de0" stroke-width="0.9" stroke-linecap="round" fill="none" opacity="1"/>
<ellipse cx="270" cy="144" rx="17" ry="14" fill="#d3ebc4" stroke="#bcdcaa" stroke-width="0.8"/>
<path d="M264 136 Q270 134 270 138 Q266 144 270 151 Q266 154 262 151 Q258 144 260 139Z" fill="#b7d9f3" stroke="#9cc6e8" stroke-width="0.5"/>
<circle cx="278" cy="144.8" r="5.5" fill="#c3a3e8" stroke="#a888d8" stroke-width="0.5"/>
<circle cx="261.4" cy="127.2" r="2.9" fill="#f5982e"/>
<circle cx="276" cy="128.9" r="2.9" fill="#f5982e"/>
<circle cx="290.3" cy="133" r="2.9" fill="#f5982e"/>
<circle cx="248.4" cy="138.9" r="2.9" fill="#f5982e"/>
<circle cx="248.9" cy="155.75" r="2.9" fill="#f5982e"/>
<circle cx="295.3" cy="153.4" r="2.9" fill="#f5982e"/>
<path d="M255.60 127.60L255.60 125.20M255.60 126.16L256.19 125.57M255.60 126.16L255.01 125.57M255.60 127.60L253.52 126.40M254.35 126.88L254.14 126.07M254.35 126.88L253.54 127.10M255.60 127.60L253.52 128.80M254.35 128.32L253.54 128.10M254.35 128.32L254.14 129.13M255.60 127.60L255.60 130.00M255.60 129.04L255.01 129.63M255.60 129.04L256.19 129.63M255.60 127.60L257.68 128.80M256.85 128.32L257.06 129.13M256.85 128.32L257.66 128.10M255.60 127.60L257.68 126.40M256.85 126.88L257.66 127.10M256.85 126.88L257.06 126.07" stroke="#2f8de0" stroke-width="0.9" stroke-linecap="round" fill="none" opacity="1"/>
<path d="M266.60 126.40L266.60 124.40M266.60 125.20L267.09 124.71M266.60 125.20L266.11 124.71M266.60 126.40L264.87 125.40M265.56 125.80L265.38 125.12M265.56 125.80L264.88 125.98M266.60 126.40L264.87 127.40M265.56 127.00L264.88 126.82M265.56 127.00L265.38 127.68M266.60 126.40L266.60 128.40M266.60 127.60L266.11 128.09M266.60 127.60L267.09 128.09M266.60 126.40L268.33 127.40M267.64 127.00L267.82 127.68M267.64 127.00L268.32 126.82M266.60 126.40L268.33 125.40M267.64 125.80L268.32 125.98M267.64 125.80L267.82 125.12" stroke="#2f8de0" stroke-width="0.9" stroke-linecap="round" fill="none" opacity="1"/>
<path d="M281.00 125.75L281.00 123.95M281.00 124.67L281.45 124.22M281.00 124.67L280.55 124.22M281.00 125.75L279.44 124.85M280.06 125.21L279.90 124.60M280.06 125.21L279.46 125.37M281.00 125.75L279.44 126.65M280.06 126.29L279.46 126.13M280.06 126.29L279.90 126.90M281.00 125.75L281.00 127.55M281.00 126.83L280.55 127.28M281.00 126.83L281.45 127.28M281.00 125.75L282.56 126.65M281.94 126.29L282.10 126.90M281.94 126.29L282.54 126.13M281.00 125.75L282.56 124.85M281.94 125.21L282.54 125.37M281.94 125.21L282.10 124.60" stroke="#2f8de0" stroke-width="0.9" stroke-linecap="round" fill="none" opacity="1"/>
<path d="M296.90 130.75L296.90 128.15M296.90 129.19L297.54 128.55M296.90 129.19L296.26 128.55M296.90 130.75L294.65 129.45M295.55 129.97L295.31 129.09M295.55 129.97L294.67 130.21M296.90 130.75L294.65 132.05M295.55 131.53L294.67 131.29M295.55 131.53L295.31 132.41M296.90 130.75L296.90 133.35M296.90 132.31L296.26 132.95M296.90 132.31L297.54 132.95M296.90 130.75L299.15 132.05M298.25 131.53L298.49 132.41M298.25 131.53L299.13 131.29M296.90 130.75L299.15 129.45M298.25 129.97L299.13 130.21M298.25 129.97L298.49 129.09" stroke="#2f8de0" stroke-width="0.9" stroke-linecap="round" fill="none" opacity="1"/>
<path d="M242.70 138.60L242.70 136.40M242.70 137.28L243.24 136.74M242.70 137.28L242.16 136.74M242.70 138.60L240.79 137.50M241.56 137.94L241.36 137.20M241.56 137.94L240.81 138.14M242.70 138.60L240.79 139.70M241.56 139.26L240.81 139.06M241.56 139.26L241.36 140.00M242.70 138.60L242.70 140.80M242.70 139.92L242.16 140.46M242.70 139.92L243.24 140.46M242.70 138.60L244.61 139.70M243.84 139.26L244.04 140.00M243.84 139.26L244.59 139.06M242.70 138.60L244.61 137.50M243.84 137.94L244.59 138.14M243.84 137.94L244.04 137.20" stroke="#2f8de0" stroke-width="0.9" stroke-linecap="round" fill="none" opacity="1"/>
<path d="M249.70 144.00L249.70 142.20M249.70 142.92L250.15 142.47M249.70 142.92L249.25 142.47M249.70 144.00L248.14 143.10M248.76 143.46L248.60 142.85M248.76 143.46L248.16 143.62M249.70 144.00L248.14 144.90M248.76 144.54L248.16 144.38M248.76 144.54L248.60 145.15M249.70 144.00L249.70 145.80M249.70 145.08L249.25 145.53M249.70 145.08L250.15 145.53M249.70 144.00L251.26 144.90M250.64 144.54L250.80 145.15M250.64 144.54L251.24 144.38M249.70 144.00L251.26 143.10M250.64 143.46L251.24 143.62M250.64 143.46L250.80 142.85" stroke="#2f8de0" stroke-width="0.9" stroke-linecap="round" fill="none" opacity="1"/>
<path d="M291.60 138.25L291.60 136.45M291.60 137.17L292.05 136.72M291.60 137.17L291.15 136.72M291.60 138.25L290.04 137.35M290.66 137.71L290.50 137.10M290.66 137.71L290.06 137.87M291.60 138.25L290.04 139.15M290.66 138.79L290.06 138.63M290.66 138.79L290.50 139.40M291.60 138.25L291.60 140.05M291.60 139.33L291.15 139.78M291.60 139.33L292.05 139.78M291.60 138.25L293.16 139.15M292.54 138.79L292.70 139.40M292.54 138.79L293.14 138.63M291.60 138.25L293.16 137.35M292.54 137.71L293.14 137.87M292.54 137.71L292.70 137.10" stroke="#2f8de0" stroke-width="0.9" stroke-linecap="round" fill="none" opacity="1"/>
<path d="M244.20 151.80L244.20 149.60M244.20 150.48L244.74 149.94M244.20 150.48L243.66 149.94M244.20 151.80L242.29 150.70M243.06 151.14L242.86 150.40M243.06 151.14L242.31 151.34M244.20 151.80L242.29 152.90M243.06 152.46L242.31 152.26M243.06 152.46L242.86 153.20M244.20 151.80L244.20 154.00M244.20 153.12L243.66 153.66M244.20 153.12L244.74 153.66M244.20 151.80L246.11 152.90M245.34 152.46L245.54 153.20M245.34 152.46L246.09 152.26M244.20 151.80L246.11 150.70M245.34 151.14L246.09 151.34M245.34 151.14L245.54 150.40" stroke="#2f8de0" stroke-width="0.9" stroke-linecap="round" fill="none" opacity="1"/>
<path d="M255.20 158.00L255.20 155.40M255.20 156.44L255.84 155.80M255.20 156.44L254.56 155.80M255.20 158.00L252.95 156.70M253.85 157.22L253.61 156.34M253.85 157.22L252.97 157.46M255.20 158.00L252.95 159.30M253.85 158.78L252.97 158.54M253.85 158.78L253.61 159.66M255.20 158.00L255.20 160.60M255.20 159.56L254.56 160.20M255.20 159.56L255.84 160.20M255.20 158.00L257.45 159.30M256.55 158.78L256.79 159.66M256.55 158.78L257.43 158.54M255.20 158.00L257.45 156.70M256.55 157.22L257.43 157.46M256.55 157.22L256.79 156.34" stroke="#2f8de0" stroke-width="0.9" stroke-linecap="round" fill="none" opacity="1"/>
<path d="M292.20 149.20L292.20 147.40M292.20 148.12L292.65 147.67M292.20 148.12L291.75 147.67M292.20 149.20L290.64 148.30M291.26 148.66L291.10 148.05M291.26 148.66L290.66 148.82M292.20 149.20L290.64 150.10M291.26 149.74L290.66 149.58M291.26 149.74L291.10 150.35M292.20 149.20L292.20 151.00M292.20 150.28L291.75 150.73M292.20 150.28L292.65 150.73M292.20 149.20L293.76 150.10M293.14 149.74L293.30 150.35M293.14 149.74L293.74 149.58M292.20 149.20L293.76 148.30M293.14 148.66L293.74 148.82M293.14 148.66L293.30 148.05" stroke="#2f8de0" stroke-width="0.9" stroke-linecap="round" fill="none" opacity="1"/>
<path d="M298.10 148.70L298.10 146.90M298.10 147.62L298.55 147.17M298.10 147.62L297.65 147.17M298.10 148.70L296.54 147.80M297.16 148.16L297.00 147.55M297.16 148.16L296.56 148.32M298.10 148.70L296.54 149.60M297.16 149.24L296.56 149.08M297.16 149.24L297.00 149.85M298.10 148.70L298.10 150.50M298.10 149.78L297.65 150.23M298.10 149.78L298.55 150.23M298.10 148.70L299.66 149.60M299.04 149.24L299.20 149.85M299.04 149.24L299.64 149.08M298.10 148.70L299.66 147.80M299.04 148.16L299.64 148.32M299.04 148.16L299.20 147.55" stroke="#2f8de0" stroke-width="0.9" stroke-linecap="round" fill="none" opacity="1"/>
<path d="M290.30 157.30L290.30 154.90M290.30 155.86L290.89 155.27M290.30 155.86L289.71 155.27M290.30 157.30L288.22 156.10M289.05 156.58L288.84 155.77M289.05 156.58L288.24 156.80M290.30 157.30L288.22 158.50M289.05 158.02L288.24 157.80M289.05 158.02L288.84 158.83M290.30 157.30L290.30 159.70M290.30 158.74L289.71 159.33M290.30 158.74L290.89 159.33M290.30 157.30L292.38 158.50M291.55 158.02L291.76 158.83M291.55 158.02L292.36 157.80M290.30 157.30L292.38 156.10M291.55 156.58L292.36 156.80M291.55 156.58L291.76 155.77" stroke="#2f8de0" stroke-width="0.9" stroke-linecap="round" fill="none" opacity="1"/>
<circle cx="16.3" cy="202.3" r="3.9" fill="#f5982e"/>
<text x="26" y="206.3" font-size="11.8" font-family="Liberation Sans, Arial, sans-serif" font-weight="bold" fill="#222" stroke="#222" stroke-width="0.35">Ice-nucleating proteins (INPs)</text>
<path d="M216.00 202.20L216.00 197.20M216.00 199.20L217.24 197.96M216.00 199.20L214.76 197.96M216.00 202.20L211.67 199.70M213.40 200.70L212.95 199.01M213.40 200.70L211.71 201.15M216.00 202.20L211.67 204.70M213.40 203.70L211.71 203.25M213.40 203.70L212.95 205.39M216.00 202.20L216.00 207.20M216.00 205.20L214.76 206.44M216.00 205.20L217.24 206.44M216.00 202.20L220.33 204.70M218.60 203.70L219.05 205.39M218.60 203.70L220.29 203.25M216.00 202.20L220.33 199.70M218.60 200.70L220.29 201.15M218.60 200.70L219.05 199.01" stroke="#1f8fe6" stroke-width="1.5" stroke-linecap="round" fill="none" opacity="1"/>
<text x="223.3" y="206.3" font-size="11.8" font-family="Liberation Sans, Arial, sans-serif" font-weight="bold" fill="#222" stroke="#222" stroke-width="0.35">Ice</text>
<circle cx="263.5" cy="201" r="3.6" fill="#7a98dc"/>
<text x="270.3" y="206.3" font-size="11.8" font-family="Liberation Sans, Arial, sans-serif" font-weight="bold" fill="#222" stroke="#222" stroke-width="0.35">AIEgens</text>
<clipPath id="gc1"><path transform="translate(0 0)" d="M28 236 Q33 227 48 222.5 Q55 219.8 62 220 Q88 224 110.6 231 Q113.5 258 112.3 283 Q108 290 102 295.3 Q75 297.5 46 296.2 Q33 290 25.5 280 Q24 258 28 236Z"/></clipPath><g clip-path="url(#gc1)"><rect x="20" y="215" width="100" height="85" fill="#dddcee"/><path transform="translate(0 0)" d="M20 215H40 Q36 255 42 300H20Z" fill="#cccae4" filter="url(#blur3)"/><path transform="translate(0 0)" d="M50 225 Q64 240 60 265 Q56 285 62 300 H44 Q40 270 46 240Z" fill="#f1f1f8" filter="url(#blur3)"/><path transform="translate(0 0)" d="M104 225 Q98 260 103 300 H120 V225Z" fill="#d3d1e8" filter="url(#blur3)"/></g><circle cx="34.5" cy="250" r="4.2" fill="#c2d0f0"/><circle cx="34.5" cy="250" r="1.2" fill="#8ea8e0"/><circle cx="71.6" cy="243.2" r="4.2" fill="#c2d0f0"/><circle cx="71.6" cy="243.2" r="1.2" fill="#8ea8e0"/><circle cx="95.2" cy="232.1" r="4.2" fill="#c2d0f0"/><circle cx="95.2" cy="232.1" r="1.2" fill="#8ea8e0"/><circle cx="106.3" cy="262" r="4.2" fill="#c2d0f0"/><circle cx="106.3" cy="262" r="1.2" fill="#8ea8e0"/><circle cx="56.75" cy="267.1" r="4.2" fill="#c2d0f0"/><circle cx="56.75" cy="267.1" r="1.2" fill="#8ea8e0"/><circle cx="101.2" cy="280.8" r="4.2" fill="#c2d0f0"/><circle cx="101.2" cy="280.8" r="1.2" fill="#8ea8e0"/><circle cx="50.8" cy="290.2" r="4.2" fill="#c2d0f0"/><circle cx="50.8" cy="290.2" r="1.2" fill="#8ea8e0"/><g transform="translate(22 216) scale(0.16900)" stroke="#4a5870" stroke-width="8.58" fill="none" stroke-linecap="round"><path d="M230 75 C250 110 245 150 225 190 S200 250 215 275"/><path d="M320 80 C360 70 390 100 385 140 S350 230 340 270 S350 350 380 380"/><path d="M105 235 C100 170 140 125 200 118 S320 120 370 160 S470 200 475 225"/><path d="M75 330 C130 335 150 300 190 270 S260 235 330 250 S450 300 465 330 S445 360 420 352"/><path d="M125 290 C95 330 120 390 180 395 S250 400 300 420"/><path d="M185 465 C220 440 260 420 310 420 S420 400 470 440"/><path d="M225 235 C250 300 275 360 258 420 S245 465 252 485"/><path d="M140 150 C150 200 120 250 110 290"/></g><circle cx="51.1" cy="239.8" r="2.8" fill="#f5982e"/><circle cx="89.2" cy="250" r="2.8" fill="#f5982e"/><circle cx="34.5" cy="259.8" r="2.8" fill="#f5982e"/><circle cx="51.6" cy="276.9" r="2.8" fill="#f5982e"/><circle cx="89.2" cy="281.3" r="2.8" fill="#f5982e"/>
<path transform="translate(187.5 0)" d="M28 236 Q33 227 48 222.5 Q55 219.8 62 220 Q88 224 110.6 231 Q113.5 258 112.3 283 Q108 290 102 295.3 Q75 297.5 46 296.2 Q33 290 25.5 280 Q24 258 28 236Z" fill="#cdeef9" stroke="#cdeef9" stroke-width="9" filter="url(#blur3)"/><clipPath id="gc2"><path transform="translate(187.5 0)" d="M28 236 Q33 227 48 222.5 Q55 219.8 62 220 Q88 224 110.6 231 Q113.5 258 112.3 283 Q108 290 102 295.3 Q75 297.5 46 296.2 Q33 290 25.5 280 Q24 258 28 236Z"/></clipPath><g clip-path="url(#gc2)"><rect x="207.5" y="215" width="100" height="85" fill="#b8cfec"/><path transform="translate(187.5 0)" d="M20 215H40 Q36 255 42 300H20Z" fill="#a2bae3" filter="url(#blur3)"/><path transform="translate(187.5 0)" d="M50 225 Q64 240 60 265 Q56 285 62 300 H44 Q40 270 46 240Z" fill="#d2e4f4" filter="url(#blur3)"/><path transform="translate(187.5 0)" d="M104 225 Q98 260 103 300 H120 V225Z" fill="#afc7e9" filter="url(#blur3)"/></g><circle cx="223" cy="247.7" r="4.1" fill="#5f88d8" opacity="0.95" filter="url(#blur08)"/><circle cx="223" cy="254.5" r="4.1" fill="#5f88d8" opacity="0.95" filter="url(#blur08)"/><circle cx="269.5" cy="247.7" r="4.3" fill="#5f88d8" opacity="0.95" filter="url(#blur08)"/><circle cx="275.5" cy="255.4" r="4.3" fill="#5f88d8" opacity="0.95" filter="url(#blur08)"/><circle cx="284" cy="253.7" r="4.3" fill="#5f88d8" opacity="0.95" filter="url(#blur08)"/><circle cx="246.3" cy="279.5" r="4.1" fill="#5f88d8" opacity="0.95" filter="url(#blur08)"/><circle cx="241.1" cy="286.3" r="4.1" fill="#5f88d8" opacity="0.95" filter="url(#blur08)"/><circle cx="225" cy="252" r="3.3" fill="#5f88d8" opacity="0.95" filter="url(#blur08)"/><g transform="translate(209.5 216) scale(0.16900)" stroke="#56667e" stroke-width="7.10" fill="none" stroke-linecap="round"><path d="M230 75 C250 110 245 150 225 190 S200 250 215 275"/><path d="M320 80 C360 70 390 100 385 140 S350 230 340 270 S350 350 380 380"/><path d="M105 235 C100 170 140 125 200 118 S320 120 370 160 S470 200 475 225"/><path d="M75 330 C130 335 150 300 190 270 S260 235 330 250 S450 300 465 330 S445 360 420 352"/><path d="M125 290 C95 330 120 390 180 395 S250 400 300 420"/><path d="M185 465 C220 440 260 420 310 420 S420 400 470 440"/><path d="M225 235 C250 300 275 360 258 420 S245 465 252 485"/><path d="M140 150 C150 200 120 250 110 290"/></g><circle cx="238.6" cy="239.8" r="2.8" fill="#f5982e"/><circle cx="276.7" cy="250" r="2.8" fill="#f5982e"/><circle cx="222.0" cy="259.8" r="2.8" fill="#f5982e"/><circle cx="239.1" cy="276.9" r="2.8" fill="#f5982e"/><circle cx="276.7" cy="281.3" r="2.8" fill="#f5982e"/><path d="M229.90 235.30L229.90 230.70M229.90 232.54L231.04 231.40M229.90 232.54L228.76 231.40M229.90 235.30L225.92 233.00M227.51 233.92L227.09 232.36M227.51 233.92L225.95 234.34M229.90 235.30L225.92 237.60M227.51 236.68L225.95 236.26M227.51 236.68L227.09 238.24M229.90 235.30L229.90 239.90M229.90 238.06L228.76 239.20M229.90 238.06L231.04 239.20M229.90 235.30L233.88 237.60M232.29 236.68L232.71 238.24M232.29 236.68L233.85 236.26M229.90 235.30L233.88 233.00M232.29 233.92L233.85 234.34M232.29 233.92L232.71 232.36" stroke="#2894e4" stroke-width="1.2" stroke-linecap="round" fill="none" opacity="1"/><path d="M256.60 226.20L256.60 221.60M256.60 223.44L257.74 222.30M256.60 223.44L255.46 222.30M256.60 226.20L252.62 223.90M254.21 224.82L253.79 223.26M254.21 224.82L252.65 225.24M256.60 226.20L252.62 228.50M254.21 227.58L252.65 227.16M254.21 227.58L253.79 229.14M256.60 226.20L256.60 230.80M256.60 228.96L255.46 230.10M256.60 228.96L257.74 230.10M256.60 226.20L260.58 228.50M258.99 227.58L259.41 229.14M258.99 227.58L260.55 227.16M256.60 226.20L260.58 223.90M258.99 224.82L260.55 225.24M258.99 224.82L259.41 223.26" stroke="#2894e4" stroke-width="1.2" stroke-linecap="round" fill="none" opacity="1"/><path d="M257.90 246.80L257.90 242.20M257.90 244.04L259.04 242.90M257.90 244.04L256.76 242.90M257.90 246.80L253.92 244.50M255.51 245.42L255.09 243.86M255.51 245.42L253.95 245.84M257.90 246.80L253.92 249.10M255.51 248.18L253.95 247.76M255.51 248.18L255.09 249.74M257.90 246.80L257.90 251.40M257.90 249.56L256.76 250.70M257.90 249.56L259.04 250.70M257.90 246.80L261.88 249.10M260.29 248.18L260.71 249.74M260.29 248.18L261.85 247.76M257.90 246.80L261.88 244.50M260.29 245.42L261.85 245.84M260.29 245.42L260.71 243.86" stroke="#2894e4" stroke-width="1.2" stroke-linecap="round" fill="none" opacity="1"/><path d="M294.40 241.60L294.40 237.00M294.40 238.84L295.54 237.70M294.40 238.84L293.26 237.70M294.40 241.60L290.42 239.30M292.01 240.22L291.59 238.66M292.01 240.22L290.45 240.64M294.40 241.60L290.42 243.90M292.01 242.98L290.45 242.56M292.01 242.98L291.59 244.54M294.40 241.60L294.40 246.20M294.40 244.36L293.26 245.50M294.40 244.36L295.54 245.50M294.40 241.60L298.38 243.90M296.79 242.98L297.21 244.54M296.79 242.98L298.35 242.56M294.40 241.60L298.38 239.30M296.79 240.22L298.35 240.64M296.79 240.22L297.21 238.66" stroke="#2894e4" stroke-width="1.2" stroke-linecap="round" fill="none" opacity="1"/><path d="M244.20 264.80L244.20 260.20M244.20 262.04L245.34 260.90M244.20 262.04L243.06 260.90M244.20 264.80L240.22 262.50M241.81 263.42L241.39 261.86M241.81 263.42L240.25 263.84M244.20 264.80L240.22 267.10M241.81 266.18L240.25 265.76M241.81 266.18L241.39 267.74M244.20 264.80L244.20 269.40M244.20 267.56L243.06 268.70M244.20 267.56L245.34 268.70M244.20 264.80L248.18 267.10M246.59 266.18L247.01 267.74M246.59 266.18L248.15 265.76M244.20 264.80L248.18 262.50M246.59 263.42L248.15 263.84M246.59 263.42L247.01 261.86" stroke="#2894e4" stroke-width="1.2" stroke-linecap="round" fill="none" opacity="1"/><path d="M280.60 266.20L280.60 261.60M280.60 263.44L281.74 262.30M280.60 263.44L279.46 262.30M280.60 266.20L276.62 263.90M278.21 264.82L277.79 263.26M278.21 264.82L276.65 265.24M280.60 266.20L276.62 268.50M278.21 267.58L276.65 267.16M278.21 267.58L277.79 269.14M280.60 266.20L280.60 270.80M280.60 268.96L279.46 270.10M280.60 268.96L281.74 270.10M280.60 266.20L284.58 268.50M282.99 267.58L283.41 269.14M282.99 267.58L284.55 267.16M280.60 266.20L284.58 263.90M282.99 264.82L284.55 265.24M282.99 264.82L283.41 263.26" stroke="#2894e4" stroke-width="1.2" stroke-linecap="round" fill="none" opacity="1"/><path d="M222.20 279.50L222.20 274.90M222.20 276.74L223.34 275.60M222.20 276.74L221.06 275.60M222.20 279.50L218.22 277.20M219.81 278.12L219.39 276.56M219.81 278.12L218.25 278.54M222.20 279.50L218.22 281.80M219.81 280.88L218.25 280.46M219.81 280.88L219.39 282.44M222.20 279.50L222.20 284.10M222.20 282.26L221.06 283.40M222.20 282.26L223.34 283.40M222.20 279.50L226.18 281.80M224.59 280.88L225.01 282.44M224.59 280.88L226.15 280.46M222.20 279.50L226.18 277.20M224.59 278.12L226.15 278.54M224.59 278.12L225.01 276.56" stroke="#2894e4" stroke-width="1.2" stroke-linecap="round" fill="none" opacity="1"/><path d="M260.90 282.00L260.90 277.40M260.90 279.24L262.04 278.10M260.90 279.24L259.76 278.10M260.90 282.00L256.92 279.70M258.51 280.62L258.09 279.06M258.51 280.62L256.95 281.04M260.90 282.00L256.92 284.30M258.51 283.38L256.95 282.96M258.51 283.38L258.09 284.94M260.90 282.00L260.90 286.60M260.90 284.76L259.76 285.90M260.90 284.76L262.04 285.90M260.90 282.00L264.88 284.30M263.29 283.38L263.71 284.94M263.29 283.38L264.85 282.96M260.90 282.00L264.88 279.70M263.29 280.62L264.85 281.04M263.29 280.62L263.71 279.06" stroke="#2894e4" stroke-width="1.2" stroke-linecap="round" fill="none" opacity="1"/><path d="M295.80 282.00L295.80 277.40M295.80 279.24L296.94 278.10M295.80 279.24L294.66 278.10M295.80 282.00L291.82 279.70M293.41 280.62L292.99 279.06M293.41 280.62L291.85 281.04M295.80 282.00L291.82 284.30M293.41 283.38L291.85 282.96M293.41 283.38L292.99 284.94M295.80 282.00L295.80 286.60M295.80 284.76L294.66 285.90M295.80 284.76L296.94 285.90M295.80 282.00L299.78 284.30M298.19 283.38L298.61 284.94M298.19 283.38L299.75 282.96M295.80 282.00L299.78 279.70M298.19 280.62L299.75 281.04M298.19 280.62L298.61 279.06" stroke="#2894e4" stroke-width="1.2" stroke-linecap="round" fill="none" opacity="1"/>
<path d="M117.7 247.7H179.6V240L204.9 259.7L179.6 279.5V271.4H117.7Z" fill="url(#arrA)"/>
<text x="158" y="257" font-size="11.8" font-family="Liberation Sans, Arial, sans-serif" font-weight="bold" fill="#1a1a1a" text-anchor="middle" stroke="#1a1a1a" stroke-width="0.35">Icing</text>
<text x="158.8" y="270.9" font-size="11.8" font-family="Liberation Sans, Arial, sans-serif" font-weight="bold" fill="#1a1a1a" text-anchor="middle" stroke="#1a1a1a" stroke-width="0.35">Forecast</text>
<text x="13.8" y="313.3" font-size="10.2" font-family="Liberation Sans, Arial, sans-serif" font-weight="bold" fill="#2a2a2a" stroke="#2a2a2a" stroke-width="0.35">Icing forecast hydrogel (IFH)</text>
<text x="188" y="313.3" font-size="10.2" font-family="Liberation Sans, Arial, sans-serif" font-weight="bold" fill="#2a2a2a" stroke="#2a2a2a" stroke-width="0.35">Freezing-induced emission</text>
<text x="0" y="348" font-size="13" font-family="Liberation Sans, Arial, sans-serif" font-weight="bold" fill="#111" stroke="#111" stroke-width="0.35">b</text>
<text x="32.6" y="380.3" font-size="11" font-family="Liberation Sans, Arial, sans-serif" font-weight="bold" fill="#1a1a1a" text-anchor="middle" stroke="#1a1a1a" stroke-width="0.35">PAM</text>
<rect x="57" y="347.6" width="53.3" height="58.4" fill="#383838"/>
<rect x="64.6" y="363.5" width="38.0" height="39.5" rx="2" fill="#5e5e5e" stroke="#6e6e6e" stroke-width="0.8"/>
<text x="83.65" y="359.8" font-size="10" font-family="Liberation Sans, Arial, sans-serif" font-weight="bold" fill="#e8e8e8" text-anchor="middle" stroke="#e8e8e8" stroke-width="0.35">Unfrozen</text>
<rect x="121.3" y="347.6" width="53.89999999999999" height="58.4" fill="#383838"/>
<rect x="128.9" y="363.5" width="38.599999999999994" height="39.5" rx="2" fill="#5e5e5e" stroke="#6e6e6e" stroke-width="0.8"/>
<text x="148.25" y="359.8" font-size="10" font-family="Liberation Sans, Arial, sans-serif" font-weight="bold" fill="#e8e8e8" text-anchor="middle" stroke="#e8e8e8" stroke-width="0.35">Unfrozen</text>
<rect x="185" y="347.6" width="54" height="58.4" fill="#383838"/>
<rect x="192.6" y="363.5" width="38.7" height="39.5" rx="2" fill="#5e5e5e" stroke="#6e6e6e" stroke-width="0.8"/>
<text x="212.0" y="359.8" font-size="10" font-family="Liberation Sans, Arial, sans-serif" font-weight="bold" fill="#e8e8e8" text-anchor="middle" stroke="#e8e8e8" stroke-width="0.35">Unfrozen</text>
<rect x="249.5" y="347.6" width="54.5" height="58.4" fill="#383838"/>
<rect x="256.0" y="361.7" width="41.5" height="37.1" rx="3" fill="#cdcec9" stroke="#e2e2de" stroke-width="0.8"/>
<ellipse cx="276.75" cy="380" rx="15" ry="13" fill="#dcdcd8" opacity="0.6" filter="url(#blur3)"/>
<text x="276.75" y="359.8" font-size="10" font-family="Liberation Sans, Arial, sans-serif" font-weight="bold" fill="#e8e8e8" text-anchor="middle" stroke="#e8e8e8" stroke-width="0.35">Frozen</text>
<text x="96.2" y="401.6" font-size="8.3" font-family="Liberation Sans, Arial, sans-serif" font-weight="bold" fill="#eee" text-anchor="middle" stroke="#eee" stroke-width="0.35">0.5 cm</text>
<rect x="88" y="403.3" width="18" height="1.3" fill="#ddd"/>
<path d="M57 414.5H292.7V409L310 422L292.7 435V429.5H57Z" fill="url(#arrB)"/>
<text x="88" y="427" font-size="11.5" font-family="Liberation Sans, Arial, sans-serif" font-weight="bold" fill="#1a1a1a" text-anchor="middle" stroke="#1a1a1a" stroke-width="0.35">0 s</text>
<text x="153.75" y="427" font-size="11.5" font-family="Liberation Sans, Arial, sans-serif" font-weight="bold" fill="#1a1a1a" text-anchor="middle" stroke="#1a1a1a" stroke-width="0.35">10 s</text>
<text x="215" y="427" font-size="11.5" font-family="Liberation Sans, Arial, sans-serif" font-weight="bold" fill="#1a1a1a" text-anchor="middle" stroke="#1a1a1a" stroke-width="0.35">1 min</text>
<text x="274.5" y="427" font-size="11.5" font-family="Liberation Sans, Arial, sans-serif" font-weight="bold" fill="#1a1a1a" text-anchor="middle" stroke="#1a1a1a" stroke-width="0.35">110 min</text>
<text x="32" y="470.7" font-size="11.3" font-family="Liberation Sans, Arial, sans-serif" font-weight="bold" fill="#38a0e8" text-anchor="middle" stroke="#38a0e8" stroke-width="0.35">IFH-B1</text>
<rect x="57" y="436" width="55" height="61" fill="#0b0f1e"/>
<rect x="64" y="442.8" width="41" height="39" rx="2" fill="#4b8282"/>
<rect x="57" y="484.8" width="55" height="12.2" fill="#000"/>
<text x="84.5" y="495" font-size="10" font-family="Liberation Sans, Arial, sans-serif" font-weight="bold" fill="#f0f0f0" text-anchor="middle" stroke="#f0f0f0" stroke-width="0.35">Unfrozen</text>
<rect x="121" y="436" width="55" height="61" fill="#1c27b8"/>
<rect x="128" y="442.8" width="41" height="39" rx="2" fill="url(#partial)"/>
<rect x="121" y="484.8" width="55" height="12.2" fill="#1c27b8"/>
<text x="148.5" y="494" font-size="8.3" font-family="Liberation Sans, Arial, sans-serif" font-weight="bold" fill="#f0f0f0" text-anchor="middle" stroke="#f0f0f0" stroke-width="0.35">Partial frozen</text>
<rect x="185.5" y="436" width="54.5" height="61" fill="#0d0f60"/>
<rect x="192.5" y="442.8" width="40.5" height="39" rx="2" fill="#3edaf8"/>
<rect x="185.5" y="484.8" width="54.5" height="12.2" fill="#000"/>
<text x="212.75" y="495" font-size="10" font-family="Liberation Sans, Arial, sans-serif" font-weight="bold" fill="#f0f0f0" text-anchor="middle" stroke="#f0f0f0" stroke-width="0.35">Frozen</text>
<rect x="250" y="436" width="54.69999999999999" height="61" fill="#0d0f60"/>
<rect x="257" y="442.8" width="40.69999999999999" height="39" rx="2" fill="#3edaf8"/>
<rect x="250" y="484.8" width="54.69999999999999" height="12.2" fill="#000"/>
<text x="277.35" y="495" font-size="10" font-family="Liberation Sans, Arial, sans-serif" font-weight="bold" fill="#f0f0f0" text-anchor="middle" stroke="#f0f0f0" stroke-width="0.35">Frozen</text>
<text x="97.5" y="478.6" font-size="8.4" font-family="Liberation Sans, Arial, sans-serif" font-weight="bold" fill="#eee" text-anchor="middle" stroke="#eee" stroke-width="0.35">0.5 cm</text>
<rect x="88.6" y="480.2" width="19.4" height="1.4" fill="#ddd"/>
<text x="333.5" y="9.5" font-size="13" font-family="Liberation Sans, Arial, sans-serif" font-weight="bold" fill="#111" stroke="#111" stroke-width="0.35">c</text>
<rect x="377" y="6.3" width="263" height="20.8" fill="#d2eaf9"/>
<text x="422.8" y="21.9" font-size="11.3" letter-spacing="0.23" font-family="Liberation Sans, Arial, sans-serif" font-weight="bold" fill="#222" stroke="#222" stroke-width="0.35">Icing forecast time (t<tspan font-size="7.5" dy="2">F</tspan><tspan dy="-2"> ) =t̄</tspan><tspan font-size="9.5" dx="0" dy="3">A</tspan><tspan dy="-3" dx="0.5"> - </tspan><tspan dx="0.5">t̄</tspan><tspan font-size="9.5" dx="0.3" dy="3">I</tspan></text>
<path d="M378 28.5V149.1H498" stroke="#1a1a1a" stroke-width="1.3" fill="none"/>
<path d="M378 35.5h2.5M378 89.5h2.5M378 143.5h2.5M383 149v-2.5M413 149v-2.5M443 149v-2.5M473 149v-2.5" stroke="#1a1a1a" stroke-width="1"/>
<text x="375" y="39.2" font-size="10.5" font-family="Liberation Sans, Arial, sans-serif" font-weight="bold" fill="#1a1a1a" text-anchor="end" stroke="#1a1a1a" stroke-width="0.35">1.0</text>
<text x="375" y="93.2" font-size="10.5" font-family="Liberation Sans, Arial, sans-serif" font-weight="bold" fill="#1a1a1a" text-anchor="end" stroke="#1a1a1a" stroke-width="0.35">0.5</text>
<text x="375" y="147.2" font-size="10.5" font-family="Liberation Sans, Arial, sans-serif" font-weight="bold" fill="#1a1a1a" text-anchor="end" stroke="#1a1a1a" stroke-width="0.35">0.0</text>
<text x="383" y="160.3" font-size="10" font-family="Liberation Sans, Arial, sans-serif" font-weight="bold" fill="#1a1a1a" text-anchor="middle" stroke="#1a1a1a" stroke-width="0.35">105</text>
<text x="411" y="160.3" font-size="10" font-family="Liberation Sans, Arial, sans-serif" font-weight="bold" fill="#1a1a1a" text-anchor="middle" stroke="#1a1a1a" stroke-width="0.35">110</text>
<text x="440" y="160.3" font-size="10" font-family="Liberation Sans, Arial, sans-serif" font-weight="bold" fill="#1a1a1a" text-anchor="middle" stroke="#1a1a1a" stroke-width="0.35">115</text>
<text x="470" y="160.3" font-size="10" font-family="Liberation Sans, Arial, sans-serif" font-weight="bold" fill="#1a1a1a" text-anchor="middle" stroke="#1a1a1a" stroke-width="0.35">120</text>
<text transform="translate(353.8 89.8) rotate(-90)" x="0" y="0" font-size="11.8" font-family="Liberation Sans, Arial, sans-serif" font-weight="bold" fill="#1a1a1a" text-anchor="middle" stroke="#1a1a1a" stroke-width="0.35">Frozen fraction</text>
<text x="416.3" y="172.5" font-size="11.8" font-family="Liberation Sans, Arial, sans-serif" font-weight="bold" fill="#1a1a1a" stroke="#1a1a1a" stroke-width="0.35">t<tspan font-size="8" dy="2.5">A</tspan><tspan dy="-2.5"> (min)</tspan></text>
<text x="420" y="144.3" font-size="11.6" font-family="Liberation Sans, Arial, sans-serif" font-weight="bold" fill="#1a1a1a" stroke="#1a1a1a" stroke-width="0.35">Environment</text>
<path d="M378 88.8H434" stroke="#f08a50" stroke-width="1.2" stroke-dasharray="4 2.6"/>
<path d="M440 88.8H450" stroke="#f08a50" stroke-width="1.3"/><path d="M435.5 88.8L441 85.6V92Z" fill="#f08a50"/>
<text x="454.5" y="95.8" font-size="15" font-family="Liberation Sans, Arial, sans-serif" fill="#1a1a1a" stroke="#1a1a1a" stroke-width="0.35">t<tspan font-size="10.5" dy="3.8" font-weight="bold">A</tspan></text>
<path d="M454.8 83.2h6" stroke="#1a1a1a" stroke-width="1"/>
<g fill="#0a0a0a"><circle cx="389.7" cy="139.9" r="1.85"/><circle cx="391.3" cy="139.3" r="1.85"/><circle cx="392.7" cy="138.5" r="1.85"/><circle cx="393.7" cy="137.5" r="1.85"/><circle cx="395.5" cy="136.3" r="1.85"/><circle cx="396.7" cy="134.6" r="1.85"/><circle cx="397.6" cy="133.4" r="1.85"/><circle cx="398.8" cy="132.4" r="1.85"/><circle cx="399.4" cy="130.6" r="1.85"/><circle cx="400.5" cy="129.6" r="1.85"/><circle cx="401.8" cy="127.6" r="1.85"/><circle cx="402.7" cy="126.1" r="1.85"/><circle cx="403.5" cy="124.6" r="1.85"/><circle cx="404.0" cy="123.6" r="1.85"/><circle cx="405.1" cy="121.7" r="1.85"/><circle cx="406.6" cy="120.8" r="1.85"/><circle cx="407.1" cy="119.6" r="1.85"/><circle cx="408.3" cy="118.1" r="1.85"/><circle cx="409.0" cy="117.0" r="1.85"/><circle cx="410.4" cy="115.7" r="1.85"/><circle cx="411.5" cy="113.9" r="1.85"/><circle cx="412.1" cy="112.5" r="1.85"/><circle cx="413.0" cy="111.1" r="1.85"/><circle cx="414.2" cy="110.2" r="1.85"/><circle cx="415.2" cy="108.9" r="1.85"/><circle cx="416.5" cy="107.3" r="1.85"/><circle cx="418.0" cy="106.1" r="1.85"/><circle cx="418.8" cy="104.8" r="1.85"/><circle cx="420.2" cy="103.2" r="1.85"/><circle cx="421.6" cy="101.9" r="1.85"/><circle cx="422.6" cy="101.1" r="1.85"/><circle cx="423.1" cy="99.8" r="1.85"/><circle cx="424.4" cy="98.3" r="1.85"/><circle cx="425.2" cy="96.7" r="1.85"/><circle cx="426.3" cy="96.0" r="1.85"/><circle cx="427.4" cy="94.5" r="1.85"/><circle cx="428.9" cy="93.3" r="1.85"/><circle cx="429.6" cy="91.6" r="1.85"/><circle cx="430.7" cy="90.6" r="1.85"/><circle cx="431.5" cy="89.3" r="1.85"/><circle cx="433.0" cy="88.1" r="1.85"/><circle cx="433.4" cy="86.7" r="1.85"/><circle cx="434.4" cy="84.8" r="1.85"/><circle cx="435.6" cy="83.8" r="1.85"/><circle cx="436.4" cy="82.3" r="1.85"/><circle cx="437.4" cy="80.5" r="1.85"/><circle cx="438.2" cy="78.9" r="1.85"/><circle cx="438.9" cy="77.5" r="1.85"/><circle cx="440.3" cy="76.6" r="1.85"/><circle cx="440.8" cy="74.5" r="1.85"/><circle cx="442.3" cy="73.4" r="1.85"/><circle cx="443.1" cy="71.9" r="1.85"/><circle cx="444.4" cy="71.0" r="1.85"/><circle cx="445.5" cy="69.4" r="1.85"/><circle cx="446.4" cy="68.4" r="1.85"/><circle cx="447.5" cy="66.8" r="1.85"/><circle cx="449.2" cy="65.3" r="1.85"/><circle cx="450.3" cy="64.5" r="1.85"/><circle cx="451.4" cy="63.1" r="1.85"/><circle cx="452.2" cy="61.6" r="1.85"/><circle cx="453.6" cy="60.7" r="1.85"/><circle cx="455.0" cy="59.3" r="1.85"/><circle cx="456.7" cy="58.4" r="1.85"/><circle cx="458.0" cy="57.0" r="1.85"/><circle cx="459.0" cy="56.1" r="1.85"/><circle cx="460.3" cy="54.6" r="1.85"/><circle cx="461.5" cy="53.4" r="1.85"/><circle cx="462.8" cy="52.8" r="1.85"/><circle cx="464.5" cy="51.5" r="1.85"/><circle cx="465.5" cy="50.1" r="1.85"/><circle cx="466.5" cy="49.0" r="1.85"/><circle cx="468.3" cy="48.2" r="1.85"/><circle cx="469.3" cy="47.1" r="1.85"/><circle cx="470.9" cy="45.9" r="1.85"/><circle cx="472.0" cy="44.6" r="1.85"/><circle cx="476.1" cy="42.2" r="1.85"/><circle cx="477.2" cy="41.0" r="1.85"/><circle cx="478.5" cy="39.8" r="1.85"/><circle cx="480.1" cy="38.8" r="1.85"/><circle cx="481.1" cy="37.9" r="1.85"/><circle cx="482.7" cy="36.5" r="1.85"/><circle cx="483.5" cy="35.3" r="1.85"/><circle cx="485.2" cy="34.2" r="1.85"/></g>
<circle cx="383" cy="141.5" r="1.8" fill="#0a0a0a"/>
<path d="M520 28.5V149.1H640" stroke="#1a1a1a" stroke-width="1.3" fill="none"/>
<path d="M520 35.5h2.5M520 89.5h2.5M520 143.5h2.5M527.5 149v-2.5M568.5 149v-2.5M609.5 149v-2.5" stroke="#1a1a1a" stroke-width="1"/>
<text x="527.5" y="160.3" font-size="10" font-family="Liberation Sans, Arial, sans-serif" font-weight="bold" fill="#1a1a1a" text-anchor="middle" stroke="#1a1a1a" stroke-width="0.35">0</text>
<text x="568.5" y="160.3" font-size="10" font-family="Liberation Sans, Arial, sans-serif" font-weight="bold" fill="#1a1a1a" text-anchor="middle" stroke="#1a1a1a" stroke-width="0.35">5</text>
<text x="609" y="160.3" font-size="10" font-family="Liberation Sans, Arial, sans-serif" font-weight="bold" fill="#1a1a1a" text-anchor="middle" stroke="#1a1a1a" stroke-width="0.35">10</text>
<text x="556.5" y="172.5" font-size="11.8" font-family="Liberation Sans, Arial, sans-serif" font-weight="bold" fill="#1a1a1a" stroke="#1a1a1a" stroke-width="0.35">t<tspan font-size="8" dy="2.5">I</tspan><tspan dy="-2.5"> (min)</tspan></text>
<text x="589" y="144.3" font-size="11.6" font-family="Liberation Sans, Arial, sans-serif" font-weight="bold" fill="#3a9cec" stroke="#3a9cec" stroke-width="0.35">IFH-B1</text>
<path d="M520.5 88.9H558" stroke="#f08a50" stroke-width="1.2" stroke-dasharray="4 2.6"/>
<path d="M571 88.9H581" stroke="#f08a50" stroke-width="1.3"/><path d="M566.5 88.9L572 85.7V92.1Z" fill="#f08a50"/>
<text x="585.5" y="96" font-size="15" font-family="Liberation Sans, Arial, sans-serif" fill="#1a1a1a" stroke="#1a1a1a" stroke-width="0.35">t<tspan font-size="9" dy="3.5" font-weight="bold">I</tspan></text>
<path d="M585.8 84.8h6" stroke="#1a1a1a" stroke-width="1"/>
<g stroke="#2a8ff0" stroke-width="3.5" stroke-linecap="round"><path d="M527.6 138.2V142.01"/><path d="M531.3 133V135.70999999999998"/><path d="M535.1 124.3V130.60999999999999"/><path d="M538.1 123V123.01"/><path d="M540.9 120.6V120.61"/><path d="M544.7 111.8V116.81"/><path d="M548.5 109.3V109.31"/><path d="M552.2 98V108.01"/><path d="M555.2 93V96.71000000000001"/><path d="M558.3 89V91.61"/><path d="M562.8 86.6V86.61"/><path d="M566.6 85.4V85.41000000000001"/><path d="M569.8 84.1V84.11"/><path d="M574.1 79V81.61"/><path d="M577.9 78.3V78.31"/><path d="M580.9 77.3V77.31"/><path d="M584.2 76.5V76.51"/><path d="M587.9 71.5V74.01"/><path d="M595.5 70.3V70.31"/><path d="M598.8 69.5V69.51"/><path d="M601.8 67.8V67.81"/><path d="M605 61.5V64.01"/><path d="M608 60.2V60.21"/><path d="M611 57.7V59.01"/><path d="M613.6 52.7V56.41"/><path d="M616.9 50.2V50.21"/><path d="M620.1 47.6V47.61"/><path d="M623.1 42.6V46.41"/><path d="M626.4 38.8V38.809999999999995"/><path d="M630.2 33.8V36.309999999999995"/></g>
<text x="335" y="195" font-size="13" font-family="Liberation Sans, Arial, sans-serif" font-weight="bold" fill="#111" stroke="#111" stroke-width="0.35">d</text>
<rect x="377" y="198.7" width="111.80000000000001" height="89.3" fill="none" stroke="#1a1a1a" stroke-width="1.2"/>
<path d="M377 226.5h2.5M377 261.5h2.5" stroke="#1a1a1a" stroke-width="1"/>
<text x="374.5" y="230" font-size="9.8" font-family="Liberation Sans, Arial, sans-serif" font-weight="bold" fill="#1a1a1a" text-anchor="end" stroke="#1a1a1a" stroke-width="0.35">120</text>
<text x="374.5" y="265.2" font-size="9.8" font-family="Liberation Sans, Arial, sans-serif" font-weight="bold" fill="#1a1a1a" text-anchor="end" stroke="#1a1a1a" stroke-width="0.35">100</text>
<text transform="translate(355 241) rotate(-90)" font-size="11.5" font-family="Liberation Sans, Arial, sans-serif" font-weight="bold" fill="#1a1a1a" text-anchor="middle" stroke="#1a1a1a" stroke-width="0.35">t<tspan font-size="7.5" dy="2.5">F</tspan><tspan dy="-2.5"> (min)</tspan></text>
<path d="M386.0 288v-2.5" stroke="#1a1a1a" stroke-width="1"/>
<text x="386.0" y="299.3" font-size="9.8" font-family="Liberation Sans, Arial, sans-serif" font-weight="bold" fill="#1a1a1a" text-anchor="middle" stroke="#1a1a1a" stroke-width="0.35">0</text>
<path d="M409.0 288v-2.5" stroke="#1a1a1a" stroke-width="1"/>
<text x="409.0" y="299.3" font-size="9.8" font-family="Liberation Sans, Arial, sans-serif" font-weight="bold" fill="#1a1a1a" text-anchor="middle" stroke="#1a1a1a" stroke-width="0.35">25</text>
<path d="M432.0 288v-2.5" stroke="#1a1a1a" stroke-width="1"/>
<text x="432.0" y="299.3" font-size="9.8" font-family="Liberation Sans, Arial, sans-serif" font-weight="bold" fill="#1a1a1a" text-anchor="middle" stroke="#1a1a1a" stroke-width="0.35">50</text>
<path d="M455.0 288v-2.5" stroke="#1a1a1a" stroke-width="1"/>
<text x="455.0" y="299.3" font-size="9.8" font-family="Liberation Sans, Arial, sans-serif" font-weight="bold" fill="#1a1a1a" text-anchor="middle" stroke="#1a1a1a" stroke-width="0.35">75</text>
<path d="M478.0 288v-2.5" stroke="#1a1a1a" stroke-width="1"/>
<text x="478.0" y="299.3" font-size="9.8" font-family="Liberation Sans, Arial, sans-serif" font-weight="bold" fill="#1a1a1a" text-anchor="middle" stroke="#1a1a1a" stroke-width="0.35">100</text>
<text x="389.5" y="313.6" font-size="11.7" font-family="Liberation Sans, Arial, sans-serif" font-weight="bold" fill="#1a1a1a" stroke="#1a1a1a" stroke-width="0.35">Freezing events</text>
<g fill="#3a98ea"><circle cx="386.0" cy="252.9" r="1.45"/><circle cx="386.7" cy="245.7" r="1.45"/><circle cx="387.3" cy="252.8" r="1.45"/><circle cx="388.0" cy="236.9" r="1.45"/><circle cx="388.6" cy="242.0" r="1.45"/><circle cx="389.3" cy="238.0" r="1.45"/><circle cx="390.0" cy="235.4" r="1.45"/><circle cx="390.6" cy="250.5" r="1.45"/><circle cx="391.3" cy="240.0" r="1.45"/><circle cx="392.0" cy="244.0" r="1.45"/><circle cx="392.6" cy="239.5" r="1.45"/><circle cx="393.3" cy="255.1" r="1.45"/><circle cx="393.9" cy="238.4" r="1.45"/><circle cx="394.6" cy="237.2" r="1.45"/><circle cx="395.3" cy="251.7" r="1.45"/><circle cx="395.9" cy="252.6" r="1.45"/><circle cx="396.6" cy="252.5" r="1.45"/><circle cx="397.3" cy="254.2" r="1.45"/><circle cx="397.9" cy="239.7" r="1.45"/><circle cx="398.6" cy="242.9" r="1.45"/><circle cx="399.2" cy="238.4" r="1.45"/><circle cx="399.9" cy="239.3" r="1.45"/><circle cx="400.6" cy="246.4" r="1.45"/><circle cx="401.2" cy="246.6" r="1.45"/><circle cx="401.9" cy="241.4" r="1.45"/><circle cx="402.5" cy="238.5" r="1.45"/><circle cx="403.2" cy="245.7" r="1.45"/><circle cx="403.9" cy="246.5" r="1.45"/><circle cx="404.5" cy="236.3" r="1.45"/><circle cx="405.2" cy="247.9" r="1.45"/><circle cx="405.9" cy="237.9" r="1.45"/><circle cx="406.5" cy="242.4" r="1.45"/><circle cx="407.2" cy="238.3" r="1.45"/><circle cx="407.8" cy="239.3" r="1.45"/><circle cx="408.5" cy="249.0" r="1.45"/><circle cx="409.2" cy="253.4" r="1.45"/><circle cx="409.8" cy="235.8" r="1.45"/><circle cx="410.5" cy="236.2" r="1.45"/><circle cx="411.2" cy="237.4" r="1.45"/><circle cx="411.8" cy="238.2" r="1.45"/><circle cx="412.5" cy="241.9" r="1.45"/><circle cx="413.1" cy="235.0" r="1.45"/><circle cx="413.8" cy="237.6" r="1.45"/><circle cx="414.5" cy="243.7" r="1.45"/><circle cx="415.1" cy="234.4" r="1.45"/><circle cx="415.8" cy="238.3" r="1.45"/><circle cx="416.4" cy="247.3" r="1.45"/><circle cx="417.1" cy="239.2" r="1.45"/><circle cx="417.8" cy="236.6" r="1.45"/><circle cx="418.4" cy="236.5" r="1.45"/><circle cx="419.1" cy="253.4" r="1.45"/><circle cx="419.8" cy="245.5" r="1.45"/><circle cx="420.4" cy="251.6" r="1.45"/><circle cx="421.1" cy="238.8" r="1.45"/><circle cx="421.7" cy="241.7" r="1.45"/><circle cx="422.4" cy="238.6" r="1.45"/><circle cx="423.1" cy="240.3" r="1.45"/><circle cx="423.7" cy="234.6" r="1.45"/><circle cx="424.4" cy="244.1" r="1.45"/><circle cx="425.1" cy="254.9" r="1.45"/><circle cx="425.7" cy="234.6" r="1.45"/><circle cx="426.4" cy="235.9" r="1.45"/><circle cx="427.0" cy="235.3" r="1.45"/><circle cx="427.7" cy="254.1" r="1.45"/><circle cx="428.4" cy="235.8" r="1.45"/><circle cx="429.0" cy="238.4" r="1.45"/><circle cx="429.7" cy="251.6" r="1.45"/><circle cx="430.3" cy="247.8" r="1.45"/><circle cx="431.0" cy="248.7" r="1.45"/><circle cx="431.7" cy="238.2" r="1.45"/><circle cx="432.3" cy="255.1" r="1.45"/><circle cx="433.0" cy="237.7" r="1.45"/><circle cx="433.7" cy="254.8" r="1.45"/><circle cx="434.3" cy="251.5" r="1.45"/><circle cx="435.0" cy="243.5" r="1.45"/><circle cx="435.6" cy="244.4" r="1.45"/><circle cx="436.3" cy="239.4" r="1.45"/><circle cx="437.0" cy="234.8" r="1.45"/><circle cx="437.6" cy="240.0" r="1.45"/><circle cx="438.3" cy="236.3" r="1.45"/><circle cx="438.9" cy="252.2" r="1.45"/><circle cx="439.6" cy="234.4" r="1.45"/><circle cx="440.3" cy="236.8" r="1.45"/><circle cx="440.9" cy="240.8" r="1.45"/><circle cx="441.6" cy="243.0" r="1.45"/><circle cx="442.3" cy="240.6" r="1.45"/><circle cx="442.9" cy="252.4" r="1.45"/><circle cx="443.6" cy="241.1" r="1.45"/><circle cx="444.2" cy="251.9" r="1.45"/><circle cx="444.9" cy="244.5" r="1.45"/><circle cx="445.6" cy="246.7" r="1.45"/><circle cx="446.2" cy="252.7" r="1.45"/><circle cx="446.9" cy="236.3" r="1.45"/><circle cx="447.6" cy="241.0" r="1.45"/><circle cx="448.2" cy="246.6" r="1.45"/><circle cx="448.9" cy="244.4" r="1.45"/><circle cx="449.5" cy="251.7" r="1.45"/><circle cx="450.2" cy="235.7" r="1.45"/><circle cx="450.9" cy="236.5" r="1.45"/><circle cx="451.5" cy="254.4" r="1.45"/><circle cx="452.2" cy="245.3" r="1.45"/><circle cx="452.8" cy="240.5" r="1.45"/><circle cx="453.5" cy="239.6" r="1.45"/><circle cx="454.2" cy="236.1" r="1.45"/><circle cx="454.8" cy="238.7" r="1.45"/><circle cx="455.5" cy="243.5" r="1.45"/><circle cx="456.2" cy="251.5" r="1.45"/><circle cx="456.8" cy="236.1" r="1.45"/><circle cx="457.5" cy="237.4" r="1.45"/><circle cx="458.1" cy="240.6" r="1.45"/><circle cx="458.8" cy="246.6" r="1.45"/><circle cx="459.5" cy="254.0" r="1.45"/><circle cx="460.1" cy="237.0" r="1.45"/><circle cx="460.8" cy="241.3" r="1.45"/><circle cx="461.5" cy="240.2" r="1.45"/><circle cx="462.1" cy="238.7" r="1.45"/><circle cx="462.8" cy="254.2" r="1.45"/><circle cx="463.4" cy="237.5" r="1.45"/><circle cx="464.1" cy="245.4" r="1.45"/><circle cx="464.8" cy="235.2" r="1.45"/><circle cx="465.4" cy="245.9" r="1.45"/><circle cx="466.1" cy="239.5" r="1.45"/><circle cx="466.7" cy="250.5" r="1.45"/><circle cx="467.4" cy="244.5" r="1.45"/><circle cx="468.1" cy="235.5" r="1.45"/><circle cx="468.7" cy="238.9" r="1.45"/><circle cx="469.4" cy="255.3" r="1.45"/><circle cx="470.1" cy="248.3" r="1.45"/><circle cx="470.7" cy="239.4" r="1.45"/><circle cx="471.4" cy="245.9" r="1.45"/><circle cx="472.0" cy="243.5" r="1.45"/><circle cx="472.7" cy="240.1" r="1.45"/><circle cx="473.4" cy="248.7" r="1.45"/><circle cx="474.0" cy="254.6" r="1.45"/><circle cx="474.7" cy="237.1" r="1.45"/><circle cx="475.4" cy="249.0" r="1.45"/><circle cx="476.0" cy="237.8" r="1.45"/><circle cx="476.7" cy="245.1" r="1.45"/><circle cx="477.3" cy="242.4" r="1.45"/><circle cx="478.0" cy="251.9" r="1.45"/></g>
<text x="482.3" y="281" font-size="11.6" font-family="Liberation Sans, Arial, sans-serif" font-weight="bold" fill="#3a98ea" text-anchor="end" stroke="#3a98ea" stroke-width="0.35">IFH-B1</text>
<text x="492.5" y="195" font-size="13" font-family="Liberation Sans, Arial, sans-serif" font-weight="bold" fill="#111" stroke="#111" stroke-width="0.35">e</text>
<rect x="527.5" y="198.7" width="106.5" height="89.3" fill="none" stroke="#1a1a1a" stroke-width="1.2"/>
<path d="M527.5 226.5h2.5M527.5 261.5h2.5" stroke="#1a1a1a" stroke-width="1"/>
<text x="525.0" y="230" font-size="9.8" font-family="Liberation Sans, Arial, sans-serif" font-weight="bold" fill="#1a1a1a" text-anchor="end" stroke="#1a1a1a" stroke-width="0.35">120</text>
<text x="525.0" y="265.2" font-size="9.8" font-family="Liberation Sans, Arial, sans-serif" font-weight="bold" fill="#1a1a1a" text-anchor="end" stroke="#1a1a1a" stroke-width="0.35">100</text>
<text transform="translate(505.5 241) rotate(-90)" font-size="11.5" font-family="Liberation Sans, Arial, sans-serif" font-weight="bold" fill="#1a1a1a" text-anchor="middle" stroke="#1a1a1a" stroke-width="0.35">t<tspan font-size="7.5" dy="2.5">F</tspan><tspan dy="-2.5"> (min)</tspan></text>
<path d="M536.6 288v-2.5" stroke="#1a1a1a" stroke-width="1"/>
<text x="536.6" y="299.3" font-size="9.8" font-family="Liberation Sans, Arial, sans-serif" font-weight="bold" fill="#1a1a1a" text-anchor="middle" stroke="#1a1a1a" stroke-width="0.35">0</text>
<path d="M559.6 288v-2.5" stroke="#1a1a1a" stroke-width="1"/>
<text x="559.6" y="299.3" font-size="9.8" font-family="Liberation Sans, Arial, sans-serif" font-weight="bold" fill="#1a1a1a" text-anchor="middle" stroke="#1a1a1a" stroke-width="0.35">25</text>
<path d="M582.5 288v-2.5" stroke="#1a1a1a" stroke-width="1"/>
<text x="582.5" y="299.3" font-size="9.8" font-family="Liberation Sans, Arial, sans-serif" font-weight="bold" fill="#1a1a1a" text-anchor="middle" stroke="#1a1a1a" stroke-width="0.35">50</text>
<path d="M605.5 288v-2.5" stroke="#1a1a1a" stroke-width="1"/>
<text x="605.5" y="299.3" font-size="9.8" font-family="Liberation Sans, Arial, sans-serif" font-weight="bold" fill="#1a1a1a" text-anchor="middle" stroke="#1a1a1a" stroke-width="0.35">75</text>
<path d="M628.5 288v-2.5" stroke="#1a1a1a" stroke-width="1"/>
<text x="628.5" y="299.3" font-size="9.8" font-family="Liberation Sans, Arial, sans-serif" font-weight="bold" fill="#1a1a1a" text-anchor="middle" stroke="#1a1a1a" stroke-width="0.35">100</text>
<text x="539.6" y="313.6" font-size="11.7" font-family="Liberation Sans, Arial, sans-serif" font-weight="bold" fill="#1a1a1a" stroke="#1a1a1a" stroke-width="0.35">Freezing cycles</text>
<g fill="#24249a"><circle cx="536.6" cy="228.9" r="1.45"/><circle cx="537.4" cy="228.2" r="1.45"/><circle cx="538.3" cy="230.0" r="1.45"/><circle cx="539.1" cy="256.2" r="1.45"/><circle cx="540.0" cy="239.7" r="1.45"/><circle cx="540.8" cy="245.2" r="1.45"/><circle cx="541.7" cy="241.7" r="1.45"/><circle cx="542.5" cy="254.7" r="1.45"/><circle cx="543.3" cy="252.7" r="1.45"/><circle cx="544.2" cy="244.5" r="1.45"/><circle cx="545.0" cy="251.7" r="1.45"/><circle cx="545.9" cy="244.1" r="1.45"/><circle cx="546.7" cy="258.1" r="1.45"/><circle cx="547.6" cy="256.1" r="1.45"/><circle cx="548.4" cy="235.9" r="1.45"/><circle cx="549.2" cy="245.2" r="1.45"/><circle cx="550.1" cy="242.3" r="1.45"/><circle cx="550.9" cy="235.1" r="1.45"/><circle cx="551.8" cy="247.3" r="1.45"/><circle cx="552.6" cy="257.0" r="1.45"/><circle cx="553.5" cy="233.5" r="1.45"/><circle cx="554.3" cy="239.8" r="1.45"/><circle cx="555.1" cy="237.6" r="1.45"/><circle cx="556.0" cy="238.8" r="1.45"/><circle cx="556.8" cy="227.4" r="1.45"/><circle cx="557.7" cy="247.1" r="1.45"/><circle cx="558.5" cy="234.3" r="1.45"/><circle cx="559.4" cy="246.9" r="1.45"/><circle cx="560.2" cy="240.4" r="1.45"/><circle cx="561.1" cy="237.5" r="1.45"/><circle cx="561.9" cy="248.7" r="1.45"/><circle cx="562.7" cy="256.1" r="1.45"/><circle cx="563.6" cy="243.5" r="1.45"/><circle cx="564.4" cy="235.6" r="1.45"/><circle cx="565.3" cy="239.8" r="1.45"/><circle cx="566.1" cy="244.4" r="1.45"/><circle cx="567.0" cy="238.1" r="1.45"/><circle cx="567.8" cy="253.0" r="1.45"/><circle cx="568.6" cy="253.1" r="1.45"/><circle cx="569.5" cy="248.4" r="1.45"/><circle cx="570.3" cy="232.5" r="1.45"/><circle cx="571.2" cy="252.5" r="1.45"/><circle cx="572.0" cy="255.2" r="1.45"/><circle cx="572.9" cy="255.7" r="1.45"/><circle cx="573.7" cy="257.6" r="1.45"/><circle cx="574.5" cy="250.0" r="1.45"/><circle cx="575.4" cy="240.3" r="1.45"/><circle cx="576.2" cy="232.3" r="1.45"/><circle cx="577.1" cy="248.2" r="1.45"/><circle cx="577.9" cy="246.9" r="1.45"/><circle cx="578.8" cy="249.5" r="1.45"/><circle cx="579.6" cy="249.0" r="1.45"/><circle cx="580.4" cy="233.7" r="1.45"/><circle cx="581.3" cy="241.1" r="1.45"/><circle cx="582.1" cy="250.5" r="1.45"/><circle cx="583.0" cy="255.4" r="1.45"/><circle cx="583.8" cy="233.5" r="1.45"/><circle cx="584.7" cy="236.0" r="1.45"/><circle cx="585.5" cy="232.1" r="1.45"/><circle cx="586.3" cy="251.2" r="1.45"/><circle cx="587.2" cy="241.2" r="1.45"/><circle cx="588.0" cy="229.1" r="1.45"/><circle cx="588.9" cy="239.7" r="1.45"/><circle cx="589.7" cy="228.3" r="1.45"/><circle cx="590.6" cy="253.5" r="1.45"/><circle cx="591.4" cy="227.3" r="1.45"/><circle cx="592.2" cy="257.1" r="1.45"/><circle cx="593.1" cy="245.4" r="1.45"/><circle cx="593.9" cy="258.1" r="1.45"/><circle cx="594.8" cy="232.7" r="1.45"/><circle cx="595.6" cy="236.6" r="1.45"/><circle cx="596.5" cy="227.4" r="1.45"/><circle cx="597.3" cy="232.8" r="1.45"/><circle cx="598.1" cy="228.2" r="1.45"/><circle cx="599.0" cy="241.4" r="1.45"/><circle cx="599.8" cy="226.9" r="1.45"/><circle cx="600.7" cy="234.6" r="1.45"/><circle cx="601.5" cy="247.7" r="1.45"/><circle cx="602.4" cy="227.3" r="1.45"/><circle cx="603.2" cy="246.7" r="1.45"/><circle cx="604.0" cy="252.6" r="1.45"/><circle cx="604.9" cy="256.4" r="1.45"/><circle cx="605.7" cy="243.8" r="1.45"/><circle cx="606.6" cy="252.5" r="1.45"/><circle cx="607.4" cy="228.7" r="1.45"/><circle cx="608.3" cy="228.1" r="1.45"/><circle cx="609.1" cy="251.9" r="1.45"/><circle cx="610.0" cy="255.5" r="1.45"/><circle cx="610.8" cy="241.7" r="1.45"/><circle cx="611.6" cy="253.4" r="1.45"/><circle cx="612.5" cy="241.3" r="1.45"/><circle cx="613.3" cy="232.6" r="1.45"/><circle cx="614.2" cy="250.7" r="1.45"/><circle cx="615.0" cy="245.2" r="1.45"/><circle cx="615.9" cy="229.7" r="1.45"/><circle cx="616.7" cy="244.5" r="1.45"/><circle cx="617.5" cy="247.8" r="1.45"/><circle cx="618.4" cy="230.0" r="1.45"/><circle cx="619.2" cy="232.5" r="1.45"/><circle cx="620.1" cy="229.9" r="1.45"/><circle cx="620.9" cy="236.6" r="1.45"/><circle cx="621.8" cy="245.5" r="1.45"/><circle cx="622.6" cy="236.4" r="1.45"/><circle cx="623.4" cy="232.0" r="1.45"/><circle cx="624.3" cy="238.2" r="1.45"/><circle cx="625.1" cy="251.2" r="1.45"/><circle cx="626.0" cy="249.3" r="1.45"/><circle cx="626.8" cy="245.6" r="1.45"/><circle cx="627.7" cy="233.9" r="1.45"/><circle cx="628.5" cy="240.8" r="1.45"/></g>
<text x="631.5" y="281" font-size="11.6" font-family="Liberation Sans, Arial, sans-serif" font-weight="bold" fill="#24249a" text-anchor="end" stroke="#24249a" stroke-width="0.35">IFH-B1</text>
<text x="335.5" y="346" font-size="13" font-family="Liberation Sans, Arial, sans-serif" font-weight="bold" fill="#111" stroke="#111" stroke-width="0.35">f</text>
<text x="367.7" y="372.7" font-size="11.8" font-family="Liberation Sans, Arial, sans-serif" font-weight="bold" fill="#1a1a1a" text-anchor="middle" stroke="#1a1a1a" stroke-width="0.35">IFH</text>
<text x="367.7" y="387.4" font-size="11.6" font-family="Liberation Sans, Arial, sans-serif" font-weight="bold" fill="#1a1a1a" text-anchor="middle" stroke="#1a1a1a" stroke-width="0.35">device</text>
<rect x="390" y="347.5" width="60" height="60.2" fill="#0a0a4a"/>
<rect x="451.9" y="347.5" width="61.5" height="60.2" fill="#0e1658"/>
<rect x="515" y="347.5" width="61" height="60.2" fill="#1c1208"/>
<rect x="577.5" y="347.5" width="61.5" height="60.2" fill="#060101"/>
<rect x="393" y="353" width="52.5" height="49" rx="2.5" fill="#3ad4f2"/>
<rect x="455.5" y="351" width="54" height="51" rx="3" fill="url(#mint)"/>
<path d="M520.5 352 Q526 350 536 351.5 Q548 350 566 351 Q569 352 568.5 356 Q566 378 568.5 400 Q566 404 560 403.5 Q540 404.5 522 404 Q519 403 520 398 Q522 376 519.5 356 Q519.5 353 520.5 352Z" fill="#dcbb8a" stroke="#c98a40" stroke-width="1"/>
<rect x="581" y="353.5" width="54" height="50.5" fill="#8a0404" stroke="#b80c0c" stroke-width="1.4"/>
<text x="435" y="400.5" font-size="8.3" font-family="Liberation Sans, Arial, sans-serif" font-weight="bold" fill="#e6e6ee" text-anchor="middle" stroke="#e6e6ee" stroke-width="0.35">0.5 cm</text>
<rect x="427" y="403.6" width="19" height="1.5" fill="#ccc"/>
<path d="M390 413.3H621.4V408.3L639 420.8L621.4 433.4V428H390Z" fill="url(#arrF)"/>
<text x="412.0" y="424.6" font-size="14" font-family="Liberation Sans, Arial, sans-serif" font-weight="bold" fill="#1a1a1a" stroke="#1a1a1a" stroke-width="0.35">t<tspan font-size="10.3" dy="3.4">F1</tspan></text>
<text x="475.40000000000003" y="424.6" font-size="14" font-family="Liberation Sans, Arial, sans-serif" font-weight="bold" fill="#1a1a1a" stroke="#1a1a1a" stroke-width="0.35">t<tspan font-size="10.3" dy="3.4">F2</tspan></text>
<text x="537.4" y="424.6" font-size="14" font-family="Liberation Sans, Arial, sans-serif" font-weight="bold" fill="#1a1a1a" stroke="#1a1a1a" stroke-width="0.35">t<tspan font-size="10.3" dy="3.4">F3</tspan></text>
<text x="599.6" y="424.6" font-size="14" font-family="Liberation Sans, Arial, sans-serif" font-weight="bold" fill="#1a1a1a" stroke="#1a1a1a" stroke-width="0.35">t<tspan font-size="10.3" dy="3.4">F4</tspan></text>
<text x="339.8" y="470.8" font-size="11.6" font-family="Liberation Sans, Arial, sans-serif" font-weight="bold" fill="#1a1a1a" stroke="#1a1a1a" stroke-width="0.35">Forecast</text>
<rect x="389.9" y="436.3" width="60.200000000000045" height="61" fill="#92d2f2"/>
<rect x="391.4" y="437.8" width="57.200000000000045" height="60" fill="#f4fbfd" opacity="0.6"/>
<rect x="392.79999999999995" y="439.7" width="54.40000000000005" height="36.8" fill="#28a8e0"/>
<rect x="392.79999999999995" y="478.6" width="54.40000000000005" height="15" fill="#2aa4dc"/>
<text x="420.0" y="490.4" font-size="12" font-family="Liberation Sans, Arial, sans-serif" font-weight="bold" fill="#10202c" text-anchor="middle" stroke="#10202c" stroke-width="0.35">FROZEN</text>
<path d="M419.70 456.60L419.70 447.60M419.70 451.02L422.54 449.12M419.70 451.02L416.86 449.12M419.70 456.60L411.91 452.10M414.87 453.81L414.64 450.40M414.87 453.81L411.80 455.32M419.70 456.60L411.91 461.10M414.87 459.39L411.80 457.88M414.87 459.39L414.64 462.80M419.70 456.60L419.70 465.60M419.70 462.18L416.86 464.08M419.70 462.18L422.54 464.08M419.70 456.60L427.49 461.10M424.53 459.39L424.76 462.80M424.53 459.39L427.60 457.88M419.70 456.60L427.49 452.10M424.53 453.81L427.60 455.32M424.53 453.81L424.76 450.40" stroke="#ffffff" stroke-width="1.7" stroke-linecap="round" fill="none"/><circle cx="419.7" cy="456.6" r="2.52" fill="#ffffff"/>
<rect x="453.3" y="436.3" width="59.099999999999966" height="61" fill="#cdeee4"/>
<rect x="454.8" y="437.8" width="56.099999999999966" height="60" fill="#f4fbfd" opacity="0.6"/>
<rect x="456.2" y="439.7" width="53.29999999999997" height="36.8" fill="#9bd7c7"/>
<rect x="456.2" y="478.6" width="53.29999999999997" height="15" fill="#98d3c3"/>
<text x="482.85" y="490.4" font-size="12" font-family="Liberation Sans, Arial, sans-serif" font-weight="bold" fill="#10202c" text-anchor="middle" stroke="#10202c" stroke-width="0.35">FROZEN</text>
<path d="M472.30 457.00L472.30 449.40M472.30 452.29L474.70 450.68M472.30 452.29L469.90 450.68M472.30 457.00L465.72 453.20M468.22 454.64L468.03 451.76M468.22 454.64L465.63 455.92M472.30 457.00L465.72 460.80M468.22 459.36L465.63 458.08M468.22 459.36L468.03 462.24M472.30 457.00L472.30 464.60M472.30 461.71L469.90 463.32M472.30 461.71L474.70 463.32M472.30 457.00L478.88 460.80M476.38 459.36L476.57 462.24M476.38 459.36L478.97 458.08M472.30 457.00L478.88 453.20M476.38 454.64L478.97 455.92M476.38 454.64L476.57 451.76" stroke="#ffffff" stroke-width="1.7" stroke-linecap="round" fill="none"/><circle cx="472.3" cy="457" r="2.13" fill="#ffffff"/>
<path d="M493.60 457.00L493.60 449.40M493.60 452.29L496.00 450.68M493.60 452.29L491.20 450.68M493.60 457.00L487.02 453.20M489.52 454.64L489.33 451.76M489.52 454.64L486.93 455.92M493.60 457.00L487.02 460.80M489.52 459.36L486.93 458.08M489.52 459.36L489.33 462.24M493.60 457.00L493.60 464.60M493.60 461.71L491.20 463.32M493.60 461.71L496.00 463.32M493.60 457.00L500.18 460.80M497.68 459.36L497.87 462.24M497.68 459.36L500.27 458.08M493.60 457.00L500.18 453.20M497.68 454.64L500.27 455.92M497.68 454.64L497.87 451.76" stroke="#ffffff" stroke-width="1.7" stroke-linecap="round" fill="none"/><circle cx="493.6" cy="457" r="2.13" fill="#ffffff"/>
<rect x="515.3" y="436.3" width="60.200000000000045" height="61" fill="#f6e2a0"/>
<rect x="516.8" y="437.8" width="57.200000000000045" height="60" fill="#f4fbfd" opacity="0.6"/>
<rect x="518.1999999999999" y="439.7" width="54.40000000000005" height="36.8" fill="#e6c246"/>
<rect x="518.1999999999999" y="478.6" width="54.40000000000005" height="15" fill="#e4c048"/>
<text x="545.4" y="490.4" font-size="12" font-family="Liberation Sans, Arial, sans-serif" font-weight="bold" fill="#10202c" text-anchor="middle" stroke="#10202c" stroke-width="0.35">FROZEN</text>
<path d="M545.20 447.80L545.20 441.00M545.20 443.58L547.35 442.15M545.20 443.58L543.05 442.15M545.20 447.80L539.31 444.40M541.55 445.69L541.38 443.11M541.55 445.69L539.23 446.83M545.20 447.80L539.31 451.20M541.55 449.91L539.23 448.77M541.55 449.91L541.38 452.49M545.20 447.80L545.20 454.60M545.20 452.02L543.05 453.45M545.20 452.02L547.35 453.45M545.20 447.80L551.09 451.20M548.85 449.91L549.02 452.49M548.85 449.91L551.17 448.77M545.20 447.80L551.09 444.40M548.85 445.69L551.17 446.83M548.85 445.69L549.02 443.11" stroke="#ffffff" stroke-width="1.7" stroke-linecap="round" fill="none"/><circle cx="545.2" cy="447.8" r="1.90" fill="#ffffff"/>
<path d="M535.40 462.60L535.40 455.80M535.40 458.38L537.55 456.95M535.40 458.38L533.25 456.95M535.40 462.60L529.51 459.20M531.75 460.49L531.58 457.91M531.75 460.49L529.43 461.63M535.40 462.60L529.51 466.00M531.75 464.71L529.43 463.57M531.75 464.71L531.58 467.29M535.40 462.60L535.40 469.40M535.40 466.82L533.25 468.25M535.40 466.82L537.55 468.25M535.40 462.60L541.29 466.00M539.05 464.71L539.22 467.29M539.05 464.71L541.37 463.57M535.40 462.60L541.29 459.20M539.05 460.49L541.37 461.63M539.05 460.49L539.22 457.91" stroke="#ffffff" stroke-width="1.7" stroke-linecap="round" fill="none"/><circle cx="535.4" cy="462.6" r="1.90" fill="#ffffff"/>
<path d="M555.00 462.60L555.00 455.80M555.00 458.38L557.15 456.95M555.00 458.38L552.85 456.95M555.00 462.60L549.11 459.20M551.35 460.49L551.18 457.91M551.35 460.49L549.03 461.63M555.00 462.60L549.11 466.00M551.35 464.71L549.03 463.57M551.35 464.71L551.18 467.29M555.00 462.60L555.00 469.40M555.00 466.82L552.85 468.25M555.00 466.82L557.15 468.25M555.00 462.60L560.89 466.00M558.65 464.71L558.82 467.29M558.65 464.71L560.97 463.57M555.00 462.60L560.89 459.20M558.65 460.49L560.97 461.63M558.65 460.49L558.82 457.91" stroke="#ffffff" stroke-width="1.7" stroke-linecap="round" fill="none"/><circle cx="555" cy="462.6" r="1.90" fill="#ffffff"/>
<rect x="578.8" y="436.3" width="60.200000000000045" height="61" fill="#f2a8a8"/>
<rect x="580.3" y="437.8" width="57.200000000000045" height="60" fill="#f4fbfd" opacity="0.6"/>
<rect x="581.6999999999999" y="439.7" width="54.40000000000005" height="36.8" fill="#c8282a"/>
<rect x="581.6999999999999" y="478.6" width="54.40000000000005" height="15" fill="#c42626"/>
<text x="608.9" y="490.4" font-size="12" font-family="Liberation Sans, Arial, sans-serif" font-weight="bold" fill="#10202c" text-anchor="middle" stroke="#10202c" stroke-width="0.35">FROZEN</text>
<path d="M597.40 448.50L597.40 441.70M597.40 444.28L599.55 442.85M597.40 444.28L595.25 442.85M597.40 448.50L591.51 445.10M593.75 446.39L593.58 443.81M593.75 446.39L591.43 447.53M597.40 448.50L591.51 451.90M593.75 450.61L591.43 449.47M593.75 450.61L593.58 453.19M597.40 448.50L597.40 455.30M597.40 452.72L595.25 454.15M597.40 452.72L599.55 454.15M597.40 448.50L603.29 451.90M601.05 450.61L601.22 453.19M601.05 450.61L603.37 449.47M597.40 448.50L603.29 445.10M601.05 446.39L603.37 447.53M601.05 446.39L601.22 443.81" stroke="#ffffff" stroke-width="1.7" stroke-linecap="round" fill="none"/><circle cx="597.4" cy="448.5" r="1.90" fill="#ffffff"/>
<path d="M618.50 448.50L618.50 441.70M618.50 444.28L620.65 442.85M618.50 444.28L616.35 442.85M618.50 448.50L612.61 445.10M614.85 446.39L614.68 443.81M614.85 446.39L612.53 447.53M618.50 448.50L612.61 451.90M614.85 450.61L612.53 449.47M614.85 450.61L614.68 453.19M618.50 448.50L618.50 455.30M618.50 452.72L616.35 454.15M618.50 452.72L620.65 454.15M618.50 448.50L624.39 451.90M622.15 450.61L622.32 453.19M622.15 450.61L624.47 449.47M618.50 448.50L624.39 445.10M622.15 446.39L624.47 447.53M622.15 446.39L622.32 443.81" stroke="#ffffff" stroke-width="1.7" stroke-linecap="round" fill="none"/><circle cx="618.5" cy="448.5" r="1.90" fill="#ffffff"/>
<path d="M597.40 466.50L597.40 459.70M597.40 462.28L599.55 460.85M597.40 462.28L595.25 460.85M597.40 466.50L591.51 463.10M593.75 464.39L593.58 461.81M593.75 464.39L591.43 465.53M597.40 466.50L591.51 469.90M593.75 468.61L591.43 467.47M593.75 468.61L593.58 471.19M597.40 466.50L597.40 473.30M597.40 470.72L595.25 472.15M597.40 470.72L599.55 472.15M597.40 466.50L603.29 469.90M601.05 468.61L601.22 471.19M601.05 468.61L603.37 467.47M597.40 466.50L603.29 463.10M601.05 464.39L603.37 465.53M601.05 464.39L601.22 461.81" stroke="#ffffff" stroke-width="1.7" stroke-linecap="round" fill="none"/><circle cx="597.4" cy="466.5" r="1.90" fill="#ffffff"/>
<path d="M618.50 466.50L618.50 459.70M618.50 462.28L620.65 460.85M618.50 462.28L616.35 460.85M618.50 466.50L612.61 463.10M614.85 464.39L614.68 461.81M614.85 464.39L612.53 465.53M618.50 466.50L612.61 469.90M614.85 468.61L612.53 467.47M614.85 468.61L614.68 471.19M618.50 466.50L618.50 473.30M618.50 470.72L616.35 472.15M618.50 470.72L620.65 472.15M618.50 466.50L624.39 469.90M622.15 468.61L622.32 471.19M622.15 468.61L624.47 467.47M618.50 466.50L624.39 463.10M622.15 464.39L624.47 465.53M622.15 464.39L622.32 461.81" stroke="#ffffff" stroke-width="1.7" stroke-linecap="round" fill="none"/><circle cx="618.5" cy="466.5" r="1.90" fill="#ffffff"/>
</g></svg></body></html>
